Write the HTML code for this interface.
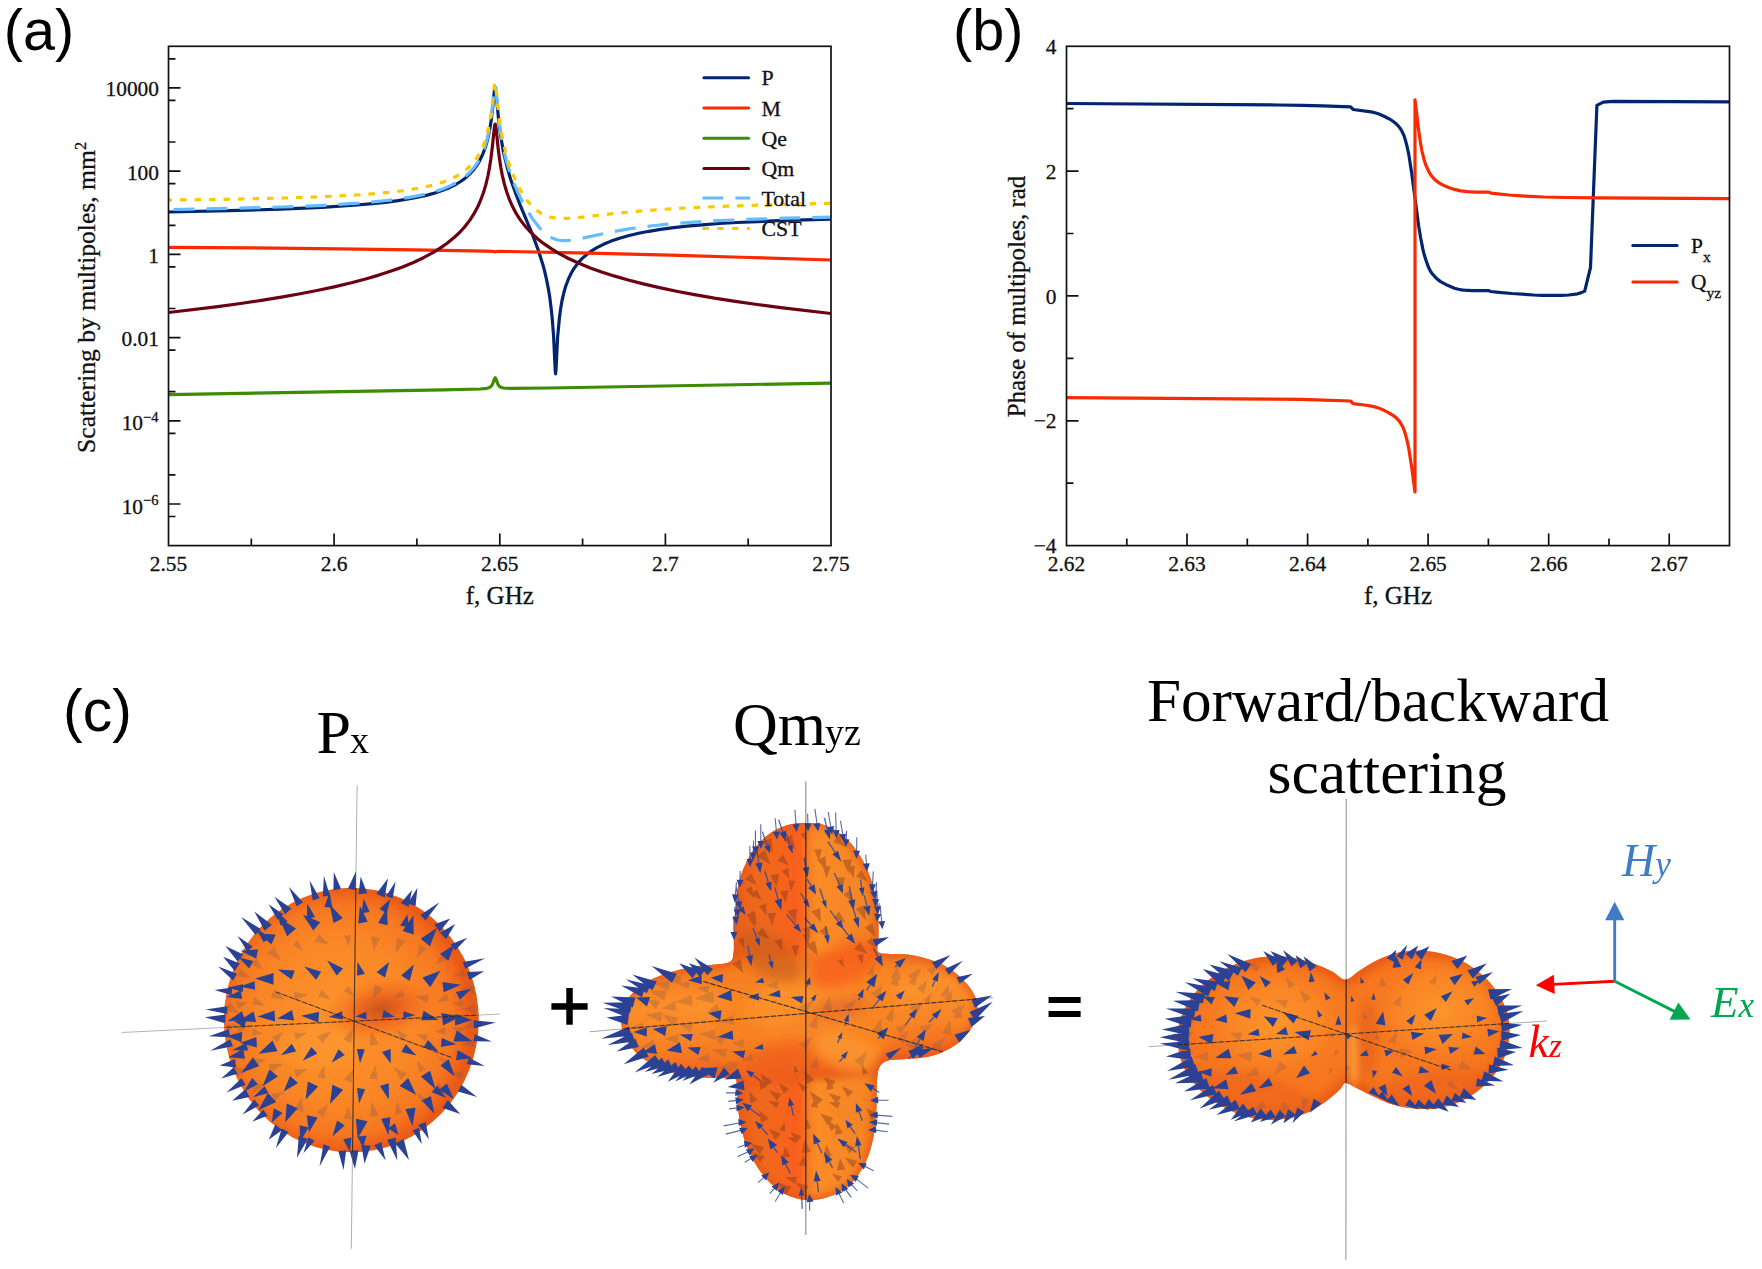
<!DOCTYPE html>
<html lang="en"><head><meta charset="utf-8"><title>Figure</title>
<style>html,body{margin:0;padding:0;background:#fff}svg{display:block}</style></head>
<body>
<svg width="1762" height="1269" viewBox="0 0 1762 1269">
<rect width="1762" height="1269" fill="#fff"/>
<defs><clipPath id="ca"><rect x="168.5" y="46.3" width="662.5" height="499.3"/></clipPath><clipPath id="cb"><rect x="1066.5" y="46.3" width="663" height="499.3"/></clipPath></defs>
<g clip-path="url(#ca)" fill="none" stroke-width="3.2" stroke-linejoin="round">
<path d="M168.5,212 L230.1,210.7 L280.3,209.2 L322,207.3 L357.1,205 L372.3,203.7 L385.5,202.3 L397.9,200.7 L408.3,199 L417.8,197.2 L427.2,195.1 L435.8,192.7 L443.4,190.1 L450,187.4 L455.7,184.5 L461.4,181 L466.1,177.4 L469.9,173.9 L473.7,169.7 L477.5,164.4 L480.3,159.4 L482.9,153.8 L485.2,147.8 L487.2,141 L488.9,133.6 L490.2,126.8 L491.3,119.4 L492.5,109.5 L494.3,91.3 L494.7,88.7 L495.1,87.7 L495.5,88.8 L495.9,91.7 L498.5,118.6 L500.7,135.9 L503.4,151.8 L507,166.7 L510.6,179.2 L515.4,192.7 L520.1,204.8 L532.4,234.4 L538.1,249.6 L542.9,264.7 L544.8,271.9 L546.7,280.4 L548.4,289 L549.8,297.6 L551,307.1 L552.1,317.1 L553.6,336.2 L555.2,370 L555.6,373.9 L556,369.9 L557.6,337.4 L559.4,318 L560.6,309 L562,300.6 L563.7,293.3 L565.6,286.5 L568.5,278.9 L571.3,273 L574.2,268.2 L577.9,263.1 L581.7,258.9 L586.5,254.7 L591.2,251.1 L596.9,247.7 L603.5,244.3 L611.1,241.1 L619.6,238.2 L628.2,235.8 L638.6,233.3 L649,231.3 L660.4,229.4 L673.7,227.7 L686.9,226.2 L702.1,224.8 L719.2,223.5 L737.2,222.5 L778.9,220.6 L831,219.1" stroke="#03256f"/>
<path d="M168.5,247.4 L253.8,247.9 L339.1,248.8 L414,249.8 L485.8,251.1 L492.8,251.3 L495.2,252 L496.5,251.5 L498,251.4 L509.7,251.5 L589.3,253.2 L669.9,255.2 L750.4,257.5 L831,260" stroke="#f92a02"/>
<path d="M168.5,394.7 L443.4,389.8 L480.3,389 L487,388.3 L489,387.7 L490.4,386.9 L491.5,385.9 L492.4,384.5 L494.5,378.7 L494.9,378 L495.2,377.8 L495.9,378.8 L498,384.4 L498.9,385.8 L500,386.8 L501.5,387.5 L503.6,388 L510.6,388.4 L549.1,388 L831,383.1" stroke="#3c8c04"/>
<path d="M168.5,312.5 L217.8,306.6 L240.5,303.5 L261.4,300.4 L281.3,297.2 L300.2,293.8 L318.2,290.3 L335.3,286.6 L351.4,282.8 L365.6,279 L378.9,275.1 L391.2,271.1 L402.6,266.9 L414,262.2 L423.5,257.7 L432.9,252.6 L440.5,247.9 L447.1,243.2 L453.8,237.8 L459.5,232.5 L465.2,226.3 L469.9,220.1 L473.7,214.2 L477.5,207.3 L480.3,201 L483.4,192.8 L485.8,184.9 L487.9,176 L489.4,168.1 L490.8,159.2 L492.2,148 L494.3,128.2 L494.7,125.2 L495.2,124.2 L495.6,125.2 L496.1,128.2 L498.1,148 L499.5,158.7 L500.8,167.3 L502.3,175.4 L504.4,184.1 L506.8,192.2 L509.7,200.2 L512.5,206.6 L516.3,213.7 L520.1,219.6 L524.9,225.9 L530.6,232.2 L537.2,238.4 L543.8,243.7 L551.2,248.7 L559.2,253.6 L568.5,258.5 L578.9,263.3 L590.3,267.9 L601.6,271.9 L614,275.9 L628.2,280 L643.3,283.9 L659.5,287.6 L676.5,291.2 L694.5,294.6 L714.4,298.1 L735.3,301.3 L757.1,304.5 L780.8,307.6 L831,313.5" stroke="#6c0210"/>
<path d="M168.5,209.6 L231.1,208.4 L282.2,207 L323.9,205.3 L358.1,203.2 L373.2,201.9 L386.5,200.5 L398.8,199 L409.2,197.4 L419.7,195.4 L428.2,193.4 L435.8,191.3 L443.4,188.7 L450,185.9 L455.7,183 L461.4,179.5 L466.1,175.8 L469.9,172.3 L473.7,168 L477.5,162.6 L480.3,157.6 L482.9,152.1 L485.1,146 L487.1,139.2 L488.9,131.7 L490.2,124.6 L491.3,117.1 L494.3,89 L494.7,86.4 L495.1,85.5 L495.5,86.5 L496,89.9 L498,111.3 L499.3,123.2 L500.7,132.9 L502.2,142 L504.2,152 L506.6,161.6 L509.7,171.7 L512.5,179.8 L517.3,191.2 L522,201 L527.7,211.2 L533.4,220 L539.1,227.3 L543.8,232.2 L546.3,234.4 L548.9,236.2 L551.4,237.7 L554,238.8 L557.8,240 L561.8,240.6 L566.6,240.7 L571.3,240.2 L579.8,238.7 L609.2,232.4 L629.1,228.9 L641.4,227.2 L654.7,225.5 L668.9,224.1 L683.1,222.9 L711.6,221 L744.8,219.5 L783.6,218.2 L831,217.2" stroke="#66bdfb" stroke-dasharray="21 12" stroke-dashoffset="28"/>
<path d="M168.5,200.1 L232.9,199.2 L285.1,198 L326.8,196.5 L360.9,194.7 L375.1,193.6 L388.4,192.4 L400.7,191 L411.1,189.5 L420.6,187.8 L429.1,186 L436.7,184 L444.3,181.6 L450.9,178.9 L456.6,176.1 L461.4,173.2 L466.1,169.7 L469.9,166.3 L473.7,162.1 L477.5,156.9 L480.3,152 L482.9,146.5 L485.1,140.7 L487,134.3 L488.7,127.1 L491.1,113.5 L492.4,103.8 L494.3,86.3 L494.7,83.5 L495.1,82.6 L495.5,83.6 L496,86.7 L498.1,108 L499.5,119.3 L502.1,136.3 L504,145.6 L506.2,154.5 L508.8,163 L511.6,171.1 L515.4,180.2 L519.2,187.9 L523,194.5 L527.7,201.3 L532.4,206.7 L537.2,210.9 L541.9,213.9 L546.5,216 L550.9,217.3 L555.8,218.1 L561.2,218.4 L567.5,218.3 L579.8,217.4 L614,213.6 L635.8,211.5 L657.6,209.7 L681.3,208.2 L710.6,206.8 L744.8,205.5 L784.6,204.4 L831,203.4" stroke="#fcc800" stroke-dasharray="6.5 8" stroke-dashoffset="3"/>
</g>
<path d="M334.1,545.6 v-12 M499.8,545.6 v-12 M665.4,545.6 v-12 M251.3,545.6 v-7 M416.9,545.6 v-7 M582.6,545.6 v-7 M748.2,545.6 v-7 M168.5,87.9 h12 M168.5,171.1 h12 M168.5,254.3 h12 M168.5,337.6 h12 M168.5,420.8 h12 M168.5,504 h12 M168.5,516.5 h7 M168.5,474.9 h7 M168.5,433.3 h7 M168.5,391.7 h7 M168.5,350.1 h7 M168.5,308.5 h7 M168.5,266.9 h7 M168.5,225.3 h7 M168.5,183.7 h7 M168.5,142 h7 M168.5,100.4 h7 M168.5,58.8 h7" stroke="#111" stroke-width="1.7" fill="none"/>
<rect x="168.5" y="46.3" width="662.5" height="499.3" fill="none" stroke="#111" stroke-width="1.7"/>
<g font-family='"Liberation Serif", serif' font-size="21.4" fill="#111" stroke="#111" stroke-width="0.3">
<text x="168.5" y="571.2" text-anchor="middle">2.55</text>
<text x="334.1" y="571.2" text-anchor="middle">2.6</text>
<text x="499.8" y="571.2" text-anchor="middle">2.65</text>
<text x="665.4" y="571.2" text-anchor="middle">2.7</text>
<text x="831" y="571.2" text-anchor="middle">2.75</text>
<text x="159" y="96.3" text-anchor="end">10000</text>
<text x="159" y="179.5" text-anchor="end">100</text>
<text x="159" y="262.7" text-anchor="end">1</text>
<text x="159" y="346" text-anchor="end">0.01</text>
<text x="158.5" y="430.3" text-anchor="end">10<tspan font-size="14.5" dy="-8.5">−4</tspan></text>
<text x="158.5" y="513.5" text-anchor="end">10<tspan font-size="14.5" dy="-8.5">−6</tspan></text>
</g>
<text x="499.8" y="603.7" text-anchor="middle" font-family='"Liberation Serif", serif' font-size="25" fill="#111" stroke="#111" stroke-width="0.3">f, GHz</text>
<text transform="translate(95.3,297.4) rotate(-90)" text-anchor="middle" font-family='"Liberation Serif", serif' font-size="25.6" fill="#111" stroke="#111" stroke-width="0.3">Scattering by multipoles, mm<tspan font-size="16.5" dy="-9">2</tspan></text>
<path d="M703.9,77.8 H748.6" stroke="#03256f" stroke-width="3" stroke-linecap="round" fill="none"/>
<text x="761.5" y="85.4" font-family='"Liberation Serif", serif' font-size="21.8" fill="#111" stroke="#111" stroke-width="0.3">P</text>
<path d="M703.9,107.9 H748.6" stroke="#f92a02" stroke-width="3" stroke-linecap="round" fill="none"/>
<text x="761.5" y="115.5" font-family='"Liberation Serif", serif' font-size="21.8" fill="#111" stroke="#111" stroke-width="0.3">M</text>
<path d="M703.9,138.2 H748.6" stroke="#3c8c04" stroke-width="3" stroke-linecap="round" fill="none"/>
<text x="761.5" y="145.8" font-family='"Liberation Serif", serif' font-size="21.8" fill="#111" stroke="#111" stroke-width="0.3">Qe</text>
<path d="M703.9,168.5 H748.6" stroke="#6c0210" stroke-width="3" stroke-linecap="round" fill="none"/>
<text x="761.5" y="176.1" font-family='"Liberation Serif", serif' font-size="21.8" fill="#111" stroke="#111" stroke-width="0.3">Qm</text>
<path d="M702.4,198.1 H750.1" stroke="#66bdfb" stroke-width="3" stroke-dasharray="21 12" fill="none"/>
<text x="761.5" y="205.7" font-family='"Liberation Serif", serif' font-size="21.8" fill="#111" stroke="#111" stroke-width="0.3">Total</text>
<path d="M702.4,228.6 H750.1" stroke="#fcc800" stroke-width="3" stroke-dasharray="6.5 8.3" fill="none"/>
<text x="761.5" y="236.2" font-family='"Liberation Serif", serif' font-size="21.8" fill="#111" stroke="#111" stroke-width="0.3">CST</text>
<g clip-path="url(#cb)" fill="none" stroke-width="3.2" stroke-linejoin="round">
<path d="M1066.5,103.5 L1277.8,105 L1302.8,105.3 L1322.7,105.9 L1350.6,106.9 L1353.2,109.5 L1371.1,111.9 L1375,112.8 L1379,114.1 L1384,116.2 L1388.9,118.7 L1391.9,120.5 L1394.9,122.7 L1397.9,125.5 L1399.9,127.9 L1401.8,131 L1403.8,135.1 L1404.8,138 L1406.8,145.4 L1408.8,154.6 L1411.8,174 L1418.7,226.3 L1420.7,238.1 L1422.7,248.4 L1423.7,252.7 L1425.7,259.5 L1428.6,267.6 L1430.6,271.4 L1432.6,274.2 L1435.6,277.5 L1437.6,279.4 L1440.6,281.6 L1447.5,285.3 L1454.5,288.2 L1458.4,289.3 L1461.4,289.9 L1464.4,290.2 L1472.3,290.6 L1488.2,290.5 L1490.9,291.5 L1498.9,292.3 L1511.9,293.5 L1533.8,295 L1541.8,295.3 L1561.7,295.3 L1568.7,295 L1577.7,293.8 L1580.7,292.9 L1584.7,291.1 L1590.5,267.5 L1596.9,105.4 L1603.2,102.1 L1613.1,101.4 L1729.5,101.8" stroke="#03256f"/>
<path d="M1066.5,397.6 L1272.8,399.1 L1300.8,399.4 L1315.7,399.8 L1350.6,401 L1353.2,403.6 L1368.1,405.5 L1375,406.9 L1380,408.6 L1385,410.8 L1388.9,412.8 L1392.9,415.3 L1395.9,417.6 L1398.9,420.7 L1400.8,423.5 L1402.8,427 L1403.8,429.3 L1405.8,435.6 L1407.8,443.7 L1408.8,448.7 L1411.8,468.1 L1415,492 L1415,99.9 L1418.9,132 L1420.9,145.4 L1421.9,150.8 L1423.9,158.9 L1425.8,164.9 L1427.8,169.6 L1429.8,173.4 L1431.8,176.2 L1434.7,179.4 L1437.7,181.9 L1440.7,183.8 L1444.6,185.8 L1448.6,187.4 L1454.5,189.4 L1460.5,190.9 L1467.4,191.7 L1475.3,192.1 L1488.2,192 L1490.9,193.1 L1508.9,195 L1524.8,196.1 L1543.8,197 L1565.8,197.5 L1598.7,197.9 L1729.5,198.7" stroke="#f92a02"/>
</g>
<path d="M1187,545.6 v-12 M1307.6,545.6 v-12 M1428.1,545.6 v-12 M1548.7,545.6 v-12 M1669.2,545.6 v-12 M1126.8,545.6 v-7 M1247.3,545.6 v-7 M1367.9,545.6 v-7 M1488.4,545.6 v-7 M1609,545.6 v-7 M1066.5,171.1 h12 M1066.5,295.9 h12 M1066.5,420.8 h12 M1066.5,108.7 h7 M1066.5,233.5 h7 M1066.5,358.4 h7 M1066.5,483.2 h7" stroke="#111" stroke-width="1.7" fill="none"/>
<rect x="1066.5" y="46.3" width="663" height="499.3" fill="none" stroke="#111" stroke-width="1.7"/>
<g font-family='"Liberation Serif", serif' font-size="21.4" fill="#111" stroke="#111" stroke-width="0.3">
<text x="1066.5" y="571.2" text-anchor="middle">2.62</text>
<text x="1187" y="571.2" text-anchor="middle">2.63</text>
<text x="1307.6" y="571.2" text-anchor="middle">2.64</text>
<text x="1428.1" y="571.2" text-anchor="middle">2.65</text>
<text x="1548.7" y="571.2" text-anchor="middle">2.66</text>
<text x="1669.2" y="571.2" text-anchor="middle">2.67</text>
<text x="1056.5" y="53.9" text-anchor="end">4</text>
<text x="1056.5" y="178.7" text-anchor="end">2</text>
<text x="1056.5" y="303.6" text-anchor="end">0</text>
<text x="1056.5" y="428.4" text-anchor="end">−2</text>
<text x="1056.5" y="553.2" text-anchor="end">−4</text>
</g>
<text x="1398" y="603.7" text-anchor="middle" font-family='"Liberation Serif", serif' font-size="25" fill="#111" stroke="#111" stroke-width="0.3">f, GHz</text>
<text transform="translate(1024.6,296.5) rotate(-90)" text-anchor="middle" font-family='"Liberation Serif", serif' font-size="25" fill="#111" stroke="#111" stroke-width="0.3">Phase of multipoles, rad</text>
<path d="M1632.8,245.6 H1677.1" stroke="#03256f" stroke-width="3" stroke-linecap="round" fill="none"/>
<text x="1691" y="253" font-family='"Liberation Serif", serif' font-size="21.4" fill="#111" stroke="#111" stroke-width="0.3">P<tspan font-size="15.5" dy="8.5">x</tspan></text>
<path d="M1632.8,281.9 H1677.1" stroke="#f92a02" stroke-width="3" stroke-linecap="round" fill="none"/>
<text x="1691" y="289.3" font-family='"Liberation Serif", serif' font-size="21.4" fill="#111" stroke="#111" stroke-width="0.3">Q<tspan font-size="15.5" dy="8.5">yz</tspan></text>
<g font-family='"Liberation Sans", sans-serif' font-size="57.6" fill="#000">
<text x="3.8" y="50.1">(a)</text>
<text x="953" y="50.1">(b)</text>
<text x="63" y="731.4" font-size="59">(c)</text>
</g>
<defs><radialGradient id="g1" cx="0.47" cy="0.5" r="0.5" fx="0.42" fy="0.5"><stop offset="0" stop-color="#fc932b"/><stop offset="0.62" stop-color="#fa8726"/><stop offset="0.86" stop-color="#f67821"/><stop offset="0.96" stop-color="#ef641a"/><stop offset="1" stop-color="#e85a18"/></radialGradient><radialGradient id="g1d" cx="0.5" cy="0.5" r="0.5"><stop offset="0" stop-color="#c4521a" stop-opacity="0.95"/><stop offset="0.4" stop-color="#ea5c1b" stop-opacity="0.75"/><stop offset="1" stop-color="#f9701f" stop-opacity="0"/></radialGradient><clipPath id="c1"><ellipse cx="351.3" cy="1020.0" rx="127.5" ry="132.2"/></clipPath><filter id="b6" x="-20%" y="-20%" width="140%" height="140%"><feGaussianBlur stdDeviation="5"/></filter><filter id="b3" x="-20%" y="-20%" width="140%" height="140%"><feGaussianBlur stdDeviation="3"/></filter></defs>
<ellipse cx="351.3" cy="1020.0" rx="127.5" ry="132.2" fill="url(#g1)"/>
<g clip-path="url(#c1)">
<ellipse cx="381" cy="1009" rx="60" ry="32" transform="rotate(-12 381 1009)" fill="url(#g1d)"/>
<ellipse cx="318" cy="1048" rx="40" ry="22" fill="#fd9a30" opacity="0.5" filter="url(#b6)"/>
</g>
<path d="M250.7,978.2 L236.9,976.2 L240.5,968.7Z M263,970 L250.9,964.1 L256.4,958.3Z M281.1,960.9 L267.5,953.2 L274.3,946.8Z M302.8,950.8 L292.6,945.2 L297.6,940.4Z M329.3,944.4 L314.7,941.8 L318.7,934.1Z M348.9,946.4 L343.9,935.7 L350.9,934.7Z M374,951.3 L370.9,936.5 L379.8,937.4Z M395.5,952.8 L397.1,937.4 L405.6,941Z M416.5,957.6 L420.1,944.5 L426.9,948.8Z M435.1,964.2 L442.6,953.5 L447.3,959.6Z M452.3,976.4 L464,968.6 L466.4,976.6Z M459.8,988 L474.7,985.1 L473.7,994Z M240.3,1014 L225.2,1010.1 L230,1002.2Z M248.3,1002.3 L238,1009.1 L235.9,1002.1Z M265.2,1005.5 L251.7,1004.5 L254.6,997Z M285.8,999.7 L270.6,997.7 L274.4,989.5Z M308.2,995 L294.4,1000.3 L293.8,991.6Z M330.9,999.5 L318,996.5 L322,989.8Z M354.6,996.6 L343.7,991.3 L348.6,986.1Z M372,999.8 L374.8,984.5 L383,988.7Z M393.1,998.4 L401.2,990.1 L404.5,996.1Z M415.4,996.2 L428.7,995 L427.1,1002.7Z M436.8,1002.6 L445.9,993.6 L449.4,1000.3Z M451.7,1002.9 L463.5,1000.5 L462.8,1007.6Z M460.9,1009.1 L475.4,1004.2 L475.6,1013.2Z M237.4,1024.6 L227.3,1031.7 L225.1,1024.7Z M250,1025.1 L239.6,1033.5 L236.7,1026.1Z M263.5,1033.4 L251.9,1035.5 L252.8,1028.6Z M283.2,1031.6 L277.1,1042.6 L271.9,1037.2Z M307.3,1033 L296.2,1040.3 L294,1032.8Z M331.5,1031 L322.4,1043.4 L317,1036.1Z M353.1,1028.7 L351.1,1043 L343.4,1039.3Z M371.3,1031 L378.4,1044.1 L369.8,1045.8Z M395.5,1029.3 L407.4,1035.6 L401.8,1041.2Z M415.9,1034.2 L427.9,1034.6 L425.6,1041.4Z M434.3,1031.7 L445,1027 L445.8,1033.9Z M450.6,1027 L463.3,1027.7 L460.7,1034.7Z M462.2,1029.2 L471.6,1020.9 L474.7,1027.6Z M251.3,1046.5 L240.7,1055.9 L237.2,1048.2Z M267,1059.8 L253.8,1066.1 L252.6,1057.6Z M283.3,1063.7 L271.1,1072.5 L268.3,1064.1Z M307.9,1069 L296.4,1077.6 L293.5,1069.6Z M324.2,1065.8 L325.1,1078.8 L317.6,1077Z M354.1,1069.3 L351.1,1083.1 L343.8,1079Z M375.6,1065.1 L377.9,1079.5 L369.3,1078.3Z M393.5,1067.3 L406.8,1073.5 L400.9,1079.9Z M417.2,1060.3 L425.6,1069.4 L418.9,1072.6Z M437.7,1056.4 L450.4,1060.9 L445.6,1067.3Z M452.8,1051.1 L464.6,1051.2 L462.4,1057.9Z M461.3,1044.6 L474.1,1039.3 L474.9,1047.5Z M250.5,1068.2 L237.4,1076.6 L235,1067.7Z M267,1083.7 L254.3,1092.5 L251.6,1083.7Z M284.5,1092.1 L274.6,1101.1 L271.2,1093.9Z M301.4,1096.5 L303.4,1111.7 L294.4,1110.2Z M328.1,1103.7 L323.4,1117.6 L316.4,1112.5Z M348.5,1105.9 L351.9,1119.3 L343.7,1118.9Z M371.7,1101.9 L378.9,1115.4 L370,1117.1Z M396.7,1101.2 L402.9,1113 L395.1,1114.5Z M416.1,1092.5 L426.5,1098.2 L421.5,1103.1Z M436.4,1081.5 L447.5,1091.1 L440.1,1095.7Z M450.8,1072.3 L463.7,1072.2 L461.5,1079.6Z" fill="#8a5a4a" opacity="0.33"/>
<path d="M240.4,950.8 L258,949.3 L256.3,958.6Z M258,933.4 L275.6,934.4 L271.5,944.6Z M279.3,918.1 L296,928.6 L287.1,936.2Z M302.7,914.5 L320.3,922.3 L313.3,930.6Z M329.7,904.5 L342.8,918.3 L333.5,923.1Z M359.9,905.8 L367.8,921.8 L358.3,923.6Z M386.9,907.8 L387.7,925.2 L378.1,922.9Z M413.4,915.3 L413.7,934.4 L402.6,931Z M436.8,928 L430,946.2 L420.7,938.8Z M454.6,944.4 L448.4,960.8 L439.9,954Z M226.3,997 L240.8,990.4 L242.1,999.1Z M239.9,986.4 L254.6,981.2 L255.1,989.7Z M255,978.5 L273.6,973 L273.4,984.7Z M277.6,969.5 L294.7,970.6 L291.6,979.4Z M304.4,966.5 L321.2,971.7 L316.1,979.7Z M327.2,960.6 L343.1,968.4 L336.6,975.6Z M357.5,962.1 L364.9,973.7 L357,975.8Z M389.2,961.9 L385,977.6 L376.6,972.3Z M413.9,964.4 L409.7,980.9 L401.1,975.6Z M440.4,970.8 L430.2,987.2 L422.4,977.6Z M460.9,984.8 L443.7,992.2 L442.4,981.9Z M471.3,988.7 L460,999.8 L455.9,991.9Z M227.6,1021.3 L241.9,1011.2 L245.1,1020.3Z M238.5,1021 L253.5,1011.5 L256.2,1022.1Z M257.6,1016.5 L274.6,1010.4 L275,1021.6Z M277.3,1018.6 L292,1010.1 L294.1,1020.4Z M301.2,1015.7 L319.2,1011.8 L318.3,1022.5Z M328.6,1016.9 L342,1011.2 L342.9,1019.6Z M355.4,1016.5 L366.1,1011.8 L366.7,1019.2Z M394.8,1016.8 L381.9,1017.9 L383.7,1010Z M415.3,1015.2 L403.2,1018.2 L403.5,1011.2Z M438.9,1020 L421.1,1020.2 L423.7,1010.8Z M460.6,1016.6 L443.1,1025.4 L441.4,1012.9Z M472.1,1020 L455,1025.4 L455.3,1013.9Z M226.5,1035.9 L242.3,1032.1 L241.5,1042.2Z M240.1,1043 L256.4,1037.2 L256.9,1047.4Z M258.4,1053.7 L272.5,1040.6 L277.5,1051.3Z M280.9,1055.2 L291.8,1043.8 L296.2,1051.3Z M302.8,1060.8 L311.3,1047 L317.3,1053.4Z M331.5,1062.8 L338.6,1049.2 L344.8,1055.1Z M360.1,1063.2 L356.7,1048.9 L364.9,1049.3Z M390.7,1063.4 L382,1052 L390.7,1049.1Z M416.5,1055.5 L401.4,1052.1 L405.8,1044.2Z M438.6,1051.5 L423.5,1047.6 L428,1040.1Z M456.3,1044.3 L440.8,1047 L441.8,1038.1Z M472.3,1041.3 L453.4,1041.5 L456.8,1030.6Z M228.2,1057.3 L243,1049.1 L245,1058.8Z M241.2,1072.9 L252.8,1057.4 L259.2,1066Z M262.7,1085.9 L269.4,1069.5 L277.9,1076.6Z M283.7,1091.5 L290,1076 L298.1,1082.9Z M305.6,1099.4 L307.9,1081.5 L318.2,1086.5Z M330,1104.1 L332.4,1084.7 L343.2,1089.7Z M359.1,1103.6 L357,1088.1 L365.2,1089.2Z M388.9,1099.4 L379.9,1085.9 L388.8,1083.2Z M416.2,1095 L399.6,1086 L408.2,1077.9Z M435.6,1089.3 L420.9,1076.6 L430.1,1070.7Z M454.8,1076.5 L440.4,1065.6 L448.7,1059.5Z M471.9,1058.1 L455.9,1060.3 L457.7,1050.3Z M258.2,1110.2 L267.9,1092.9 L276.2,1102Z M285.2,1122.3 L286.7,1103.6 L297.7,1108.3Z M308.9,1132.6 L306.8,1115.3 L317.7,1117.5Z M332.3,1136.5 L337.2,1120.6 L344.8,1125.5Z M357.7,1138.3 L355.8,1118.7 L367.6,1121.2Z M388.5,1135 L381.1,1118.8 L390.5,1117.3Z M412.4,1125.9 L405.3,1108.9 L415.6,1107.8Z M434.5,1114.1 L421.9,1100.6 L430.9,1096Z M453.9,1099.2 L439.5,1089.7 L446.8,1083.5Z" fill="#2b4193"/>
<path d="M495.8,1022.6 L474,1028.4 L473.4,1020.2Z M491.8,1041.6 L473.3,1041.2 L474.9,1034.3Z M484.7,1066 L466.8,1064.3 L468.9,1057.5Z M477.1,1096.9 L457.9,1091.5 L461.3,1084.8Z M460.3,1113.9 L442.6,1108 L447.7,1100.1Z M428.8,1139.2 L418.3,1125.1 L425.7,1121.9Z M421.8,1144.3 L412.4,1130.4 L419.1,1127.8Z M409,1160.1 L395.2,1143.4 L403.7,1139.1Z M397.3,1160.5 L387.2,1139.9 L395.7,1137.5Z M385.6,1160.5 L374.2,1145.2 L381.3,1141.9Z M364.5,1163.8 L361.3,1145 L370.7,1145.8Z M354.9,1168.9 L349.5,1150.7 L358.5,1150.2Z M343.5,1170 L338.3,1151 L346.2,1150.5Z M319.5,1166.5 L323.5,1144.3 L330.2,1146.7Z M303.4,1153.2 L308.4,1137.3 L314.6,1140.8Z M297,1157.8 L298.8,1136.1 L307.7,1138.9Z M275.8,1148.3 L281.7,1128.5 L288.5,1132Z M268.7,1139.8 L275.2,1124.5 L282.2,1130Z M252.2,1121.8 L263.3,1109.5 L267.6,1115.7Z M242.5,1114.6 L254.3,1099.6 L259.2,1105.4Z M232.1,1100.7 L245.6,1089 L249.6,1097.1Z M226.5,1092.4 L241.5,1078.2 L245.7,1084.8Z M221.2,1078.5 L233.8,1067.2 L237.5,1073.7Z M219.5,1065.4 L235,1059.1 L236.2,1067.4Z M210.2,1050.8 L230.3,1039.2 L233,1046.3Z M208.7,1036.2 L228.9,1029.3 L230.1,1037.3Z M204.7,1017.2 L225.7,1014.4 L225,1023.3Z M205.4,1009.6 L227.4,1006.2 L227.2,1014Z M214.6,990.1 L232.2,987.6 L231.6,995.2Z M218.1,966.4 L237.1,973.7 L233,980.4Z M223.1,956.8 L239.9,963.6 L234.6,970.9Z M225.4,945.9 L243.3,954.5 L237.6,961.6Z M237.5,936 L252.7,946.5 L247.4,951.5Z M241.1,917.1 L260.7,928.9 L255.5,934.9Z M254.3,911.4 L271.8,924.7 L264.7,930.7Z M268.6,904.2 L283.4,914.4 L277.6,919.8Z M274.4,896.7 L291.4,908.4 L285.1,914.3Z M288.8,886.7 L303,902.2 L296.7,906.2Z M309.6,880.5 L319.6,898 L312.8,900.4Z M323.9,875.8 L329.9,895.7 L322.8,896.5Z M333.8,871.9 L341,888.8 L333.4,890.3Z M356,871.2 L355.8,890.2 L348,888.4Z M360.7,876.5 L367.2,893.2 L358.5,894.3Z M388,878.2 L384.7,897.4 L376.4,893.8Z M395.6,881.4 L392.6,898.6 L386.1,896Z M412,889.9 L408.6,906.7 L400.9,903Z M417.4,887.8 L415.6,906.1 L407.7,903.5Z M439.5,902.2 L425.4,920.5 L420.3,915Z M450.3,918.4 L439.7,931.8 L434.3,924.2Z M455.3,924 L446.1,939.1 L439.9,932.7Z M467.3,937.7 L455.1,950.6 L450.8,944.3Z M485.1,958.3 L465.1,968.7 L462.8,962Z M484.2,971.2 L469.4,980.1 L466.9,972Z M446.2,1097.9 L431.8,1092.2 L437.1,1085.4Z M398.5,1135 L388.2,1128.5 L395,1123.2Z M362.9,1147.5 L357.3,1136.5 L366.6,1135.7Z M349.8,1151.7 L343.2,1139.2 L351.5,1137.6Z M300.2,1141.8 L299.6,1125.2 L308.6,1127.4Z M271.8,1122.4 L273.8,1108.2 L282.5,1112.9Z M252.9,1097.3 L264.6,1086.2 L268.4,1092.9Z M243.8,1091.8 L252.2,1078.1 L257.9,1084.1Z M232,1050.2 L246.2,1042.7 L248.1,1050.5Z M234.3,1021.3 L246.1,1020 L244.3,1027.7Z M227.6,987.4 L243.2,984.2 L242.8,992.1Z M238.9,957.6 L253.3,961.1 L249.1,968.4Z M256.1,928.5 L269.5,937.1 L263.8,942.4Z M276.1,911 L287.7,921.3 L280.8,925.8Z M307.3,903.6 L315.1,916.9 L306.7,919Z M329.6,892.3 L332.4,907.7 L324.3,907Z M363.6,898.4 L369.7,912 L361.5,913.2Z M390.3,898.9 L386.9,913.3 L379.5,908.9Z M407.4,914.6 L409,927.5 L400.1,925.4Z" fill="#2b4193"/>
<path d="M357.1,785.4 L351.3,1248.8" stroke="#555" stroke-width="1" opacity="0.48" fill="none"/>
<path d="M121.6,1032.5 L500,1014" stroke="#555" stroke-width="1" opacity="0.44000000000000006" fill="none"/>
<path d="M276,992 L451.7,1057.6" stroke="#555" stroke-width="1" opacity="0.52" fill="none"/>
<g clip-path="url(#c1)">
<path d="M357.1,785.4 L351.3,1248.8" stroke="#2a1408" stroke-width="1" opacity="0.7" fill="none"/>
<path d="M121.6,1032.5 L500,1014" stroke="#2a1408" stroke-width="1" opacity="0.7" fill="none" stroke-dasharray="5 2"/>
<path d="M276,992 L451.7,1057.6" stroke="#2a1408" stroke-width="1" opacity="0.7" fill="none" stroke-dasharray="5 2"/>
</g>
<defs><clipPath id="c2"><path d="M805.9,823.1 C812.5,823.1 819.2,823.1 825.8,825.6 C832.4,828.1 839.5,832.4 845.6,838 C851.7,843.6 857.7,851.5 862.2,859.5 C866.8,867.5 870.3,876.6 872.9,886 C875.5,895.4 877,907 877.9,915.8 C878.8,924.6 878.4,932.9 878.4,938.9 C878.4,944.9 876.1,949 877.9,951.5 C879.7,954 884.2,953.5 889.4,954 C894.6,954.5 902,953.7 909.2,954.8 C916.4,955.9 925.2,958 932.4,960.6 C939.6,963.2 946.1,966.2 952.2,970.5 C958.3,974.8 964.6,980.9 968.8,986.3 C972.9,991.7 976,997.3 977.1,1002.8 C978.2,1008.3 977.3,1013.9 975.4,1019.4 C973.5,1024.9 969.9,1031 965.5,1035.9 C961.1,1040.9 955,1045.6 948.9,1049.1 C942.8,1052.5 936.3,1054.9 929.1,1056.6 C921.9,1058.3 912.8,1058.4 905.9,1059.1 C899,1059.8 892.1,1059.3 887.7,1060.7 C883.3,1062.1 881.2,1063.6 879.4,1067.3 C877.6,1071 877.4,1075.4 876.9,1083 C876.4,1090.6 876.9,1103.5 876.2,1112.9 C875.5,1122.3 874.7,1131.1 872.9,1139.4 C871.1,1147.7 869,1155.3 865.5,1162.5 C862,1169.7 857.2,1177.2 852.2,1182.4 C847.2,1187.7 841.8,1191.1 835.7,1194 C829.6,1196.9 821.9,1199 815.8,1199.8 C809.7,1200.6 805.4,1200.4 799.3,1198.9 C793.2,1197.4 785.8,1195.1 779.4,1190.7 C773,1186.3 766.4,1179.4 761.2,1172.5 C756,1165.6 751.5,1157.3 748,1149.3 C744.5,1141.3 742.3,1132.8 740.5,1124.5 C738.7,1116.2 738,1107.2 737.2,1099.6 C736.4,1092 738.1,1082.6 735.6,1079 C733.1,1075.4 729.6,1078.5 722.5,1078.1 C715.4,1077.7 702.6,1077.9 692.7,1076.4 C682.8,1074.9 671.7,1072.4 662.9,1069 C654.1,1065.6 645.8,1060.8 639.7,1055.8 C633.6,1050.8 629.6,1044.7 626.5,1039.2 C623.4,1033.7 621.5,1028.5 621.2,1022.7 C620.9,1016.9 622.3,1010 624.8,1004.5 C627.3,999 631.4,994 636.4,989.6 C641.4,985.2 647.4,981.3 654.6,978 C661.8,974.7 670.9,971.8 679.4,969.7 C687.9,967.6 697.6,966.8 705.9,965.6 C714.2,964.4 724.5,964.4 729.1,962.3 C733.7,960.2 732.7,956.9 733.5,953 C734.3,949.1 733.7,945.1 733.9,938.9 C734.1,932.7 734,925.2 734.8,915.8 C735.6,906.4 736.4,892.6 738.9,882.7 C741.4,872.8 745,863.9 749.6,856.2 C754.2,848.5 760.1,841.4 766.2,836.3 C772.3,831.2 779.4,827.8 786,825.6 C792.6,823.4 799.3,823.1 805.9,823.1Z"/></clipPath><linearGradient id="g2v" x1="0" x2="1" y1="0" y2="0"><stop offset="0" stop-color="#e65f1b"/><stop offset="0.25" stop-color="#f0691d"/><stop offset="0.47" stop-color="#fa5f1a"/><stop offset="0.5" stop-color="#f7741f"/><stop offset="0.56" stop-color="#fa8c29"/><stop offset="0.85" stop-color="#f58424"/><stop offset="1" stop-color="#ea701f"/></linearGradient><linearGradient id="g2h" x1="0" x2="0" y1="0" y2="1"><stop offset="0" stop-color="#f3741f"/><stop offset="0.3" stop-color="#fb8e2a"/><stop offset="0.6" stop-color="#f98526"/><stop offset="0.85" stop-color="#f1681d"/><stop offset="1" stop-color="#e85a19"/></linearGradient><radialGradient id="g2d" cx="0.5" cy="0.5" r="0.5"><stop offset="0" stop-color="#d44e18" stop-opacity="0.9"/><stop offset="1" stop-color="#ec5f1c" stop-opacity="0"/></radialGradient><radialGradient id="g2l" cx="0.5" cy="0.5" r="0.5"><stop offset="0" stop-color="#fd9a30" stop-opacity="0.9"/><stop offset="1" stop-color="#fb8a27" stop-opacity="0"/></radialGradient></defs>
<path d="M805.9,823.1 C812.5,823.1 819.2,823.1 825.8,825.6 C832.4,828.1 839.5,832.4 845.6,838 C851.7,843.6 857.7,851.5 862.2,859.5 C866.8,867.5 870.3,876.6 872.9,886 C875.5,895.4 877,907 877.9,915.8 C878.8,924.6 878.4,932.9 878.4,938.9 C878.4,944.9 876.1,949 877.9,951.5 C879.7,954 884.2,953.5 889.4,954 C894.6,954.5 902,953.7 909.2,954.8 C916.4,955.9 925.2,958 932.4,960.6 C939.6,963.2 946.1,966.2 952.2,970.5 C958.3,974.8 964.6,980.9 968.8,986.3 C972.9,991.7 976,997.3 977.1,1002.8 C978.2,1008.3 977.3,1013.9 975.4,1019.4 C973.5,1024.9 969.9,1031 965.5,1035.9 C961.1,1040.9 955,1045.6 948.9,1049.1 C942.8,1052.5 936.3,1054.9 929.1,1056.6 C921.9,1058.3 912.8,1058.4 905.9,1059.1 C899,1059.8 892.1,1059.3 887.7,1060.7 C883.3,1062.1 881.2,1063.6 879.4,1067.3 C877.6,1071 877.4,1075.4 876.9,1083 C876.4,1090.6 876.9,1103.5 876.2,1112.9 C875.5,1122.3 874.7,1131.1 872.9,1139.4 C871.1,1147.7 869,1155.3 865.5,1162.5 C862,1169.7 857.2,1177.2 852.2,1182.4 C847.2,1187.7 841.8,1191.1 835.7,1194 C829.6,1196.9 821.9,1199 815.8,1199.8 C809.7,1200.6 805.4,1200.4 799.3,1198.9 C793.2,1197.4 785.8,1195.1 779.4,1190.7 C773,1186.3 766.4,1179.4 761.2,1172.5 C756,1165.6 751.5,1157.3 748,1149.3 C744.5,1141.3 742.3,1132.8 740.5,1124.5 C738.7,1116.2 738,1107.2 737.2,1099.6 C736.4,1092 738.1,1082.6 735.6,1079 C733.1,1075.4 729.6,1078.5 722.5,1078.1 C715.4,1077.7 702.6,1077.9 692.7,1076.4 C682.8,1074.9 671.7,1072.4 662.9,1069 C654.1,1065.6 645.8,1060.8 639.7,1055.8 C633.6,1050.8 629.6,1044.7 626.5,1039.2 C623.4,1033.7 621.5,1028.5 621.2,1022.7 C620.9,1016.9 622.3,1010 624.8,1004.5 C627.3,999 631.4,994 636.4,989.6 C641.4,985.2 647.4,981.3 654.6,978 C661.8,974.7 670.9,971.8 679.4,969.7 C687.9,967.6 697.6,966.8 705.9,965.6 C714.2,964.4 724.5,964.4 729.1,962.3 C733.7,960.2 732.7,956.9 733.5,953 C734.3,949.1 733.7,945.1 733.9,938.9 C734.1,932.7 734,925.2 734.8,915.8 C735.6,906.4 736.4,892.6 738.9,882.7 C741.4,872.8 745,863.9 749.6,856.2 C754.2,848.5 760.1,841.4 766.2,836.3 C772.3,831.2 779.4,827.8 786,825.6 C792.6,823.4 799.3,823.1 805.9,823.1Z" fill="#f57a21"/>
<g clip-path="url(#c2)"><g filter="url(#b3)">
<rect x="722" y="812" width="168" height="150" fill="url(#g2v)"/>
<rect x="722" y="1070" width="168" height="140" fill="url(#g2v)"/>
<rect x="610" y="955" width="380" height="126" transform="rotate(-4.5 806 1012)" fill="url(#g2h)"/>
<ellipse cx="740" cy="1020" rx="26" ry="54" fill="#f7801f" opacity="0.8"/>
<ellipse cx="874" cy="1006" rx="22" ry="50" fill="#f8841f" opacity="0.8"/>
<ellipse cx="770" cy="956" rx="36" ry="20" transform="rotate(40 770 956)" fill="#c25c1e" opacity="0.55" filter="url(#b6)"/>
<ellipse cx="846" cy="964" rx="38" ry="20" transform="rotate(-28 846 964)" fill="#f85e1c" opacity="0.75" filter="url(#b6)"/>
<ellipse cx="766" cy="1064" rx="44" ry="16" transform="rotate(-18 766 1064)" fill="#f2601c" opacity="0.75" filter="url(#b6)"/>
<ellipse cx="840" cy="1008" rx="28" ry="10" transform="rotate(-12 840 1008)" fill="#e0602a" opacity="0.6" filter="url(#b6)"/>
<ellipse cx="846" cy="1052" rx="34" ry="18" transform="rotate(20 846 1052)" fill="#fd9c32" opacity="0.75" filter="url(#b6)"/>
<ellipse cx="778" cy="1004" rx="36" ry="18" transform="rotate(-15 778 1004)" fill="#fc942c" opacity="0.7" filter="url(#b6)"/>
<ellipse cx="706" cy="1008" rx="60" ry="22" transform="rotate(-6 706 1008)" fill="url(#g2l)" opacity="0.6"/>
<ellipse cx="915" cy="990" rx="48" ry="22" transform="rotate(-6 915 990)" fill="url(#g2l)" opacity="0.6"/>
</g>
<path d="M805.9,823.1 C812.5,823.1 819.2,823.1 825.8,825.6 C832.4,828.1 839.5,832.4 845.6,838 C851.7,843.6 857.7,851.5 862.2,859.5 C866.8,867.5 870.3,876.6 872.9,886 C875.5,895.4 877,907 877.9,915.8 C878.8,924.6 878.4,932.9 878.4,938.9 C878.4,944.9 876.1,949 877.9,951.5 C879.7,954 884.2,953.5 889.4,954 C894.6,954.5 902,953.7 909.2,954.8 C916.4,955.9 925.2,958 932.4,960.6 C939.6,963.2 946.1,966.2 952.2,970.5 C958.3,974.8 964.6,980.9 968.8,986.3 C972.9,991.7 976,997.3 977.1,1002.8 C978.2,1008.3 977.3,1013.9 975.4,1019.4 C973.5,1024.9 969.9,1031 965.5,1035.9 C961.1,1040.9 955,1045.6 948.9,1049.1 C942.8,1052.5 936.3,1054.9 929.1,1056.6 C921.9,1058.3 912.8,1058.4 905.9,1059.1 C899,1059.8 892.1,1059.3 887.7,1060.7 C883.3,1062.1 881.2,1063.6 879.4,1067.3 C877.6,1071 877.4,1075.4 876.9,1083 C876.4,1090.6 876.9,1103.5 876.2,1112.9 C875.5,1122.3 874.7,1131.1 872.9,1139.4 C871.1,1147.7 869,1155.3 865.5,1162.5 C862,1169.7 857.2,1177.2 852.2,1182.4 C847.2,1187.7 841.8,1191.1 835.7,1194 C829.6,1196.9 821.9,1199 815.8,1199.8 C809.7,1200.6 805.4,1200.4 799.3,1198.9 C793.2,1197.4 785.8,1195.1 779.4,1190.7 C773,1186.3 766.4,1179.4 761.2,1172.5 C756,1165.6 751.5,1157.3 748,1149.3 C744.5,1141.3 742.3,1132.8 740.5,1124.5 C738.7,1116.2 738,1107.2 737.2,1099.6 C736.4,1092 738.1,1082.6 735.6,1079 C733.1,1075.4 729.6,1078.5 722.5,1078.1 C715.4,1077.7 702.6,1077.9 692.7,1076.4 C682.8,1074.9 671.7,1072.4 662.9,1069 C654.1,1065.6 645.8,1060.8 639.7,1055.8 C633.6,1050.8 629.6,1044.7 626.5,1039.2 C623.4,1033.7 621.5,1028.5 621.2,1022.7 C620.9,1016.9 622.3,1010 624.8,1004.5 C627.3,999 631.4,994 636.4,989.6 C641.4,985.2 647.4,981.3 654.6,978 C661.8,974.7 670.9,971.8 679.4,969.7 C687.9,967.6 697.6,966.8 705.9,965.6 C714.2,964.4 724.5,964.4 729.1,962.3 C733.7,960.2 732.7,956.9 733.5,953 C734.3,949.1 733.7,945.1 733.9,938.9 C734.1,932.7 734,925.2 734.8,915.8 C735.6,906.4 736.4,892.6 738.9,882.7 C741.4,872.8 745,863.9 749.6,856.2 C754.2,848.5 760.1,841.4 766.2,836.3 C772.3,831.2 779.4,827.8 786,825.6 C792.6,823.4 799.3,823.1 805.9,823.1Z" fill="none" stroke="#e5561a" stroke-width="7" filter="url(#b3)" opacity="0.8"/>
</g>
<path d="M807.6,813.8 L808,827.1 M814.9,808.9 L817.5,827.1 M828.2,812 L831.3,830.2 M835.6,812.5 L836.3,833.9 M840.5,820.7 L843.3,837.8 M846.7,830.8 L845.9,842.9 M856.8,837.3 L856.6,854.3 M865.7,854.6 L866.7,867 M873.3,871.4 L872.3,888 M872.4,880.9 L874.4,895.1 M876.5,882.2 L875.6,902.6 M876.8,890.2 L877.6,910 M879.2,903.3 L877.3,917.4 M880.1,905.5 L882,924.9 M888.5,1100.2 L876.6,1100.2 M892.4,1116.4 L876,1115.1 M889.3,1124.1 L875.4,1122.6 M887.8,1131.8 L874.5,1130.1 M873.6,1170.8 L863.8,1165.8 M868.2,1188.1 L855.6,1178.4 M857.4,1190.8 L850.6,1183.9 M851.3,1197.4 L844.9,1188.7 M843.7,1203 L838.5,1192.6 M809.6,1210.5 L809.7,1200.3 M775.2,1201.5 L781.2,1191.8 M769.8,1193.7 L775.2,1187.4 M757.9,1182.6 L764.7,1176.8 M744.7,1162.2 L752.2,1158.1 M737.8,1156.4 L748.9,1151.4 M737.7,1147.4 L746.1,1144.4 M725.7,1134.1 L741.8,1130.1 M723.6,1125.9 L740.2,1122.7 M729.1,1108.9 L738.1,1107.9 M728.3,1101.4 L737.3,1100.4 M726,1092.9 L737,1092.9 M733.8,916.1 L734,935.5 M734.7,907.1 L736.1,920.4 M735.4,896.1 L737.5,912.9 M735.9,885.2 L739.4,905.3 M736.5,882.4 L735.1,898 M740.2,871.1 L739.9,883.4 M749.8,845.8 L750.1,862.6 M753.6,840.8 L753.2,856.2 M755.4,830.5 L755.6,850.2 M760.8,824.3 L760.8,844.6 M775.2,818.3 L776.7,835.3 M794.9,809.9 L796.3,827.7" stroke="#3a4c9c" stroke-width="1.1" fill="none" opacity="0.85"/>
<path d="M665.9,979.1 L681.1,975.3 L680.4,985Z M898.3,973.4 L898.3,986.5 L890.6,984.1Z M917.3,973.8 L915.3,986 L908.4,982.5Z M649.4,991.1 L666.9,990.2 L664.1,1000.7Z M675.3,1001.8 L691.6,995.1 L692.4,1006Z M694.5,998.7 L713.2,990.9 L714.2,1003.4Z M932.2,993.3 L928.8,1003.9 L923.2,999.8Z M952.4,990 L951.4,1002.2 L944.4,999.3Z M645.4,1014.7 L662.3,1011.4 L661,1021.9Z M662,1014.4 L678.2,1017.5 L673.3,1026.4Z M893.7,1007.7 L892.9,1022 L884.7,1018.8Z M958.5,1003.9 L962.8,1018.3 L953.5,1018.1Z M698.7,1033.9 L715.2,1029.5 L714.6,1040.1Z M908.2,1030.5 L903.4,1044.2 L896.3,1038.7Z M711.9,1049.4 L727.4,1048.5 L724.9,1057.9Z M717.8,1069.1 L730.7,1061.6 L732.7,1070.7Z M874,964.4 L874.1,976.7 L866.5,974Z M897.1,964.8 L900.9,979.9 L890.6,979Z M921.3,967.7 L915.5,982.3 L907.7,975.5Z M938.3,964.2 L932.6,975.5 L926.8,969.5Z M654.9,984.1 L669.5,980.5 L668.5,990.4Z M677.7,983.5 L689.5,981.2 L688.4,989.1Z M696.5,987.6 L709.5,985.3 L708.1,994Z M765.7,985.3 L777.2,981.3 L777.2,989.3Z M882.9,985.3 L878.6,999.7 L870.6,993.9Z M927.2,980.4 L924,993.4 L916.6,988.6Z M948.6,984.2 L949.3,998.3 L940.3,995.6Z M646.4,999.2 L660.4,1001.2 L656,1009.5Z M661.8,1008.3 L675.1,1001.1 L676.6,1011Z M706.9,1012.4 L716.7,1003.3 L720.3,1011.4Z M813.4,1000.4 L806.3,1014.2 L799.2,1006.8Z M829.5,996 L832.2,1010.7 L822.4,1009.2Z M856.4,999.7 L849.8,1012.6 L843.2,1005.7Z M923.5,1001.6 L916.1,1014.8 L909.5,1007.4Z M965.6,1004.2 L957.9,1018 L951,1010.2Z M631.7,1027.1 L643.3,1022.5 L643.7,1030.7Z M678.2,1023.5 L693.2,1022.9 L690.3,1032.4Z M719.7,1022.1 L733,1014.8 L734.6,1024.7Z M817.4,1014.8 L817.2,1029.1 L808.4,1025.9Z M881,1017.9 L882.5,1033 L872.8,1030.6Z M907.7,1023.9 L900.4,1034.3 L895.6,1027.5Z M933.1,1023.5 L924.5,1034.2 L919.7,1026.5Z M950,1020.3 L951.7,1035.4 L941.9,1033.2Z M641,1047.6 L653.6,1039.3 L656,1048.9Z M664.1,1038.8 L678.6,1033.9 L678.4,1044.1Z M712.2,1035.6 L725.7,1037.2 L721.7,1045.3Z M731.2,1043.2 L743.8,1039.1 L743.6,1047.9Z M812.3,1036.9 L805.6,1050.8 L798.4,1043.6Z M918.9,1036.2 L913.1,1050.9 L905.2,1044.2Z M945.3,1037.6 L938.7,1051.9 L931.2,1044.7Z M658.4,1062.3 L670.1,1058.5 L669.9,1066.6Z M696.9,1059.4 L708.5,1053.7 L709.5,1062.2Z M725.8,1060.9 L738.7,1062.3 L735.1,1070Z M741.7,1060.2 L751.8,1053.6 L753.7,1061.3Z M817.2,1056.2 L818.8,1069.1 L810.4,1067.3Z M866.7,1051.6 L862.8,1066.6 L854.3,1060.9Z" fill="#8a5a4a" opacity="0.3"/>
<path d="M806.7,842.3 L800.3,834.1 L806.4,832Z M818.7,861.2 L814.3,849.8 L821.9,849.3Z M789.6,878.8 L781.9,871.2 L787.9,868.1Z M826.6,878.5 L822.6,866.3 L830.6,866.3Z M853.7,878.2 L847,867.3 L854.7,865.4Z M753.5,897.7 L745.4,889.4 L751.9,886.3Z M790.9,891.2 L788.4,880.4 L795.2,881.1Z M766.5,916 L759.1,905.9 L766.4,903.5Z M755.3,926.8 L749,919.2 L754.7,916.9Z M744.2,948.2 L737.9,939.6 L744.2,937.6Z M782.4,951.1 L774.6,941 L782.1,938.3Z M808.5,946.3 L802.1,934.8 L810.2,933.3Z M875.1,947.4 L866.7,941.9 L871.5,938Z M844.3,967.2 L837.7,961.6 L842.3,958.8Z M862.6,964.7 L857.1,955.5 L863.5,954Z M794.4,1065.3 L798.8,1071.8 L794.1,1073.1Z M862,1065.2 L868.3,1072.9 L862.6,1075.1Z M759.6,1078.8 L766.2,1087.1 L760.1,1089.4Z M779,1082.9 L789.2,1088.9 L783.7,1093.7Z M797.7,1082.2 L807.7,1087.3 L802.7,1092.3Z M828.5,1077.6 L833.7,1088.8 L826.1,1089.7Z M841.8,1086.3 L853.1,1091.6 L847.8,1097.3Z M768.2,1100.7 L779.4,1102 L776.5,1108.3Z M816.5,1096.3 L817.7,1107.9 L810.7,1106.4Z M828.6,1101.9 L840.1,1102 L837.8,1108.8Z M784.8,1121.8 L785.2,1131.6 L779.4,1130Z M806.9,1118.4 L811.2,1128.5 L804.4,1129.2Z M827,1119.2 L836.9,1126.7 L830.6,1131.1Z M787.3,1137.3 L797.6,1137.6 L795.5,1143.6Z M752.7,1152.5 L764.5,1156.4 L760,1162.6Z M804,1154.3 L806.5,1166.6 L798.8,1165.6Z M844.6,1157.5 L857.4,1161 L852.9,1167.8Z M785,1177.3 L797,1176.7 L795.1,1183.9Z M831.9,1173.4 L841.8,1176.5 L838.1,1181.8Z M772.9,852.5 L762.5,842 L771.4,837.8Z M795.6,849.6 L783.2,840.3 L791.7,834.6Z M845.1,846.6 L833.2,842 L838.6,835.6Z M770.3,864.4 L757,856.2 L765,849.8Z M788.8,865.5 L777.4,860.5 L783,854.5Z M826.4,870.6 L816.9,859.8 L825.7,856.2Z M848.4,873.5 L842.3,860 L852.1,859.2Z M756.6,884.9 L745.2,879.5 L751.1,873.6Z M776.5,887.5 L770.3,875 L779.4,873.9Z M842.1,889.9 L836.4,877.9 L845.1,877Z M867.6,881.5 L855.9,876.6 L861.6,870.3Z M761.6,900.2 L751,894.7 L756.7,889.3Z M785.6,902.8 L780.2,891.4 L788.6,890.5Z M853.9,903 L843.3,894.6 L850.8,889.8Z M756.8,924.7 L746.5,914.9 L754.8,910.7Z M772.2,925.9 L767.1,913.2 L776.1,912.8Z M795.8,923.6 L787.2,911.1 L796.8,908.5Z M820.9,922.3 L811.4,911.4 L820.3,907.8Z M845.3,922.5 L833.6,917.9 L839,911.6Z M865.5,920.1 L855.9,908.8 L865,905.3Z M769.5,939 L756.8,934.4 L762.5,927.5Z M810.4,937.8 L802.5,929 L809.7,926Z M830.1,940 L819,931.3 L826.9,926.2Z M875.3,936.8 L864.7,927.7 L872.6,923.1Z M795.7,956.8 L791.4,945.3 L799.5,945.2Z M817.9,956 L806,945.7 L815,940.5Z M867.6,954.1 L853.8,949.2 L859.9,941.7Z M743.3,973.5 L732.3,963.7 L740.8,959Z M760.4,1072.9 L772.7,1081.4 L764.7,1087.2Z M804.2,1070.6 L814.5,1079.9 L806.5,1084.3Z M823,1077.4 L835.6,1081 L830.6,1088Z M749.3,1091.3 L757.5,1100 L750.3,1103.2Z M769.5,1090.4 L781.6,1094.1 L776.6,1100.8Z M810,1091.6 L823.1,1099.4 L815.4,1105.9Z M828.8,1093.3 L841.1,1096.8 L836.3,1103.7Z M758.8,1109.9 L768.9,1118.7 L761.2,1123Z M820.3,1113.5 L833.2,1118.1 L827.5,1125.2Z M866.1,1107.7 L877.9,1114 L871.4,1120Z M768.8,1128.7 L781,1133.5 L775.4,1140.1Z M790.6,1132 L801.6,1136.4 L796.4,1142.3Z M836.3,1122.7 L843,1133 L835.2,1135Z M751.4,1144.2 L764.4,1147.1 L759.8,1154.5Z M785,1146.3 L790.4,1156.8 L782.6,1157.9Z M804.4,1139.3 L811,1152 L801.6,1153.3Z M826.3,1144.7 L831.9,1156.1 L823.5,1157.1Z M843.6,1142.6 L854.8,1147.5 L849.3,1153.4Z M840,1157.9 L845.3,1169.4 L836.9,1170.2Z M776.9,1182.5 L791.3,1186.8 L785.5,1194.8Z M795.7,1182.8 L808.8,1185.7 L804.1,1193.2Z" fill="#7a3320" opacity="0.38"/>
<path d="M782.7,831.9 L778.7,819.8 M827.3,829.5 L824.4,817.9 M767.1,845.6 L762.4,831.6 M790,845.5 L786.1,833 M835.2,852.5 L828,841.6 M758.8,863.1 L756.8,849.5 M805.7,867.3 L803.8,857.5 M768.5,882.7 L764.8,871.3 M811.3,886.2 L807.2,879.1 M839.6,885.3 L834.4,872.9 M861.7,887.8 L860.4,879.6 M740.8,908 L735.3,900 M778.3,899.6 L774.7,887.4 M805.2,900.6 L800.6,893 M823.9,900.8 L819.7,888.5 M851.8,900.2 L849.3,886.2 M866.9,906.2 L864.4,895.3 M795.7,925.4 L786.7,914.3 M811.4,925.4 L804.5,917.7 M838.4,921.9 L830,910.3 M856.1,918.2 L853.5,909.1 M757.2,938.7 L752.9,927.9 M826.9,935.4 L825.4,926.2 M848.9,935.8 L843,928.5 M749.6,955.7 L747.8,945.5 M770.8,961.6 L769.1,954.9 M878,956.9 L873.4,948 M897.3,965 L894.9,967.1 M807.8,984.2 L807.2,986.2 M870.3,984.7 L866.6,990.5 M935,980.5 L932.2,986.8 M812.8,999.9 L812.2,1000.8 M860.1,996.8 L858.6,1000 M879.5,999.2 L872.2,1008.6 M898.3,997.5 L897.5,998.4 M846.3,1021.1 L844.9,1025.9 M911.5,1016.6 L905.3,1025.1 M934.3,1016.7 L928.9,1022.5 M839.7,1038 L837.6,1042.7 M880,1036.4 L877.8,1038.9 M920.2,1039 L914.8,1048.8 M843,1057.4 L839.5,1061.8 M914.8,1052.5 L908.7,1058.9 M752.7,1075 L760.3,1080.7 M872.8,1088.4 L879.3,1092.5 M750,1108.5 L759.9,1116 M791.2,1105.7 L793.5,1115.9 M859,1111.5 L862.4,1120.8 M761.1,1127.4 L767.9,1134.7 M850.1,1126.5 L855.2,1133.6 M773.7,1147.2 L777.4,1152.7 M817.3,1143.1 L821.9,1153.3 M845.7,1144.7 L856.2,1152.3 M858.4,1145.8 L860.3,1159 M785.5,1163.8 L790.4,1173.5 M829.2,1161.6 L832.5,1167.8 M817.2,1181.2 L818.4,1192.2 M801.6,1195.6 L802.2,1208.9" stroke="#33479a" stroke-width="1.3" fill="none" opacity="0.85"/>
<path d="M785.8,841.2 L779.4,833 L786.1,830.8Z M829.8,839.6 L824,830.3 L830.6,828.7Z M769.8,853.5 L764.1,846.6 L770.1,844.6Z M792.7,853.8 L787.5,846.3 L792.6,844.7Z M841.2,861.6 L832.4,854.3 L837.9,850.7Z M760.4,873.1 L755.3,863.6 L762.4,862.5Z M807.8,877.5 L802.4,868 L809.1,866.7Z M771.3,891.3 L765.5,883.6 L771.5,881.7Z M816.1,894.4 L808.1,888 L814.5,884.3Z M843,893.4 L836.5,886.6 L842.7,884Z M863.1,896.4 L859,888.2 L864.4,887.3Z M745.5,914.7 L738.3,909.8 L743.4,906.3Z M781.3,910 L774.6,900.7 L781.9,898.5Z M809.7,908.1 L802.9,902 L807.6,899.1Z M826.5,908.4 L821.6,901.6 L826.2,900Z M853.6,910.6 L848.2,900.8 L855.3,899.5Z M869.2,915.8 L863.4,907 L870.5,905.4Z M801.2,932.3 L793.2,927.4 L798.2,923.4Z M818.3,933.2 L809.1,927.5 L813.8,923.3Z M843.8,929.5 L835.7,923.8 L841.1,920Z M858.8,927.9 L853.1,919 L859.1,917.3Z M760.1,946.2 L754.6,939.7 L759.7,937.7Z M828.2,944 L824.1,935.8 L829.6,935Z M855.2,943.7 L846.1,938 L851.7,933.6Z M751.4,965.9 L746.2,956.3 L753,955.1Z M772.7,969.1 L768.2,962.3 L773.4,960.9Z M882.9,966.6 L874.5,958.7 L881.4,955.1Z M905.8,958 L899.8,968 L894.9,962.1Z M688.1,980.2 L701.6,975.5 L701.8,984.2Z M710.7,977.8 L723,973.9 L722.4,983Z M754.8,982.4 L762.8,977.7 L764.1,983Z M810.1,977.1 L810.5,985.1 L805.2,983.3Z M877.1,973.8 L874.3,987.2 L866.2,982.2Z M938.9,971.8 L937.7,981.7 L932.3,979.3Z M636.1,997.5 L650.1,996.9 L646.9,1006.4Z M716.9,996.7 L731.2,990 L732,1001.2Z M747.9,997.2 L758.6,993 L759,1000.6Z M768.1,995.3 L779.7,990 L780.6,997.5Z M790.8,997.1 L803.6,996.1 L801.9,1003.6Z M816.6,993.9 L814.8,1001.1 L810.9,998.6Z M863.7,988.7 L862.9,998 L857.3,995.5Z M886.4,990.4 L882.5,1001.5 L876.6,996.9Z M904.7,990.5 L900.7,999.7 L895.9,995.3Z M708,1013.1 L721.7,1010.2 L720.2,1020Z M848.6,1013.7 L848.8,1021.9 L843.9,1020.4Z M917.3,1008.7 L914.3,1018.7 L908.8,1014.6Z M941.5,1009 L936.8,1019.1 L931.8,1014.4Z M633.3,1032 L646.8,1027.6 L646.8,1036.4Z M652.7,1029 L666.7,1026 L665.2,1036.1Z M679.7,1034.4 L692.9,1033.9 L690.9,1041.3Z M717.9,1036.7 L732.5,1030.5 L733.4,1039.8Z M842.3,1032 L841.6,1038.9 L837.7,1037.2Z M888.3,1027.2 L883.6,1039.5 L876.5,1033.2Z M925.6,1029.4 L923.8,1041 L916.7,1037Z M642.8,1051.9 L655,1044.3 L657,1053.9Z M666.7,1050.4 L680,1042.3 L682,1053.3Z M687.3,1047.6 L700.6,1047 L698.4,1055.1Z M732.2,1051.6 L745.3,1050.5 L743.4,1058.6Z M753.8,1048.4 L762.6,1044.1 L763.4,1049.8Z M848.1,1050.9 L845.1,1059 L840.9,1055.8Z M923.3,1043.5 L917.6,1055.2 L912,1049.8Z M699.9,1068.2 L717.6,1067.3 L714.4,1078.4Z M746.1,1070.2 L754.4,1072.6 L750.9,1077.4Z M864.5,1083.2 L874.7,1085.4 L870.9,1091.4Z M742.3,1102.7 L752.2,1105.6 L747.8,1111.5Z M789.3,1097.4 L794.2,1105.1 L788.2,1106.4Z M855.9,1102.9 L862.3,1110.4 L855.8,1112.7Z M755,1120.9 L763.3,1125.3 L758.8,1129.5Z M845.4,1119.8 L852.7,1124.7 L847.5,1128.4Z M767.8,1138.5 L777.1,1145 L770.4,1149.5Z M813,1133.4 L820.9,1141.5 L813.8,1144.6Z M837.3,1138.5 L847.6,1142 L843.8,1147.3Z M856.9,1136 L861.6,1145.3 L855.1,1146.3Z M781,1154.9 L788.8,1162.2 L782.3,1165.5Z M824,1152.1 L832.4,1159.8 L825.9,1163.4Z M816.1,1170.5 L820.7,1180.9 L813.7,1181.6Z M801.2,1187.6 L804.5,1195.5 L798.6,1195.7Z M808.1,831.5 L804.4,823.6 L811.4,823.4Z M818.2,831.4 L813.5,824 L820.5,823Z M832.1,834.6 L827.3,827.3 L834.2,826.1Z M836.5,838.3 L832.7,830.4 L839.7,830.1Z M844,842.2 L839.2,834.8 L846.1,833.7Z M845.6,847.3 L842.7,839.1 L849.6,839.6Z M856.5,858.7 L853.1,850.7 L860.1,850.8Z M867,871.4 L862.9,863.7 L869.9,863.2Z M872,892.4 L869,884.2 L876,884.6Z M875,899.5 L870.4,892 L877.3,891.1Z M875.4,907 L872.2,898.9 L879.2,899.2Z M877.8,914.4 L874,906.6 L881,906.3Z M876.8,921.7 L874.3,913.4 L881.3,914.2Z M882.5,929.2 L878.2,921.6 L885.1,920.9Z M870.2,1100.4 L878,1096.5 L878.4,1103.4Z M869.6,1115 L877.6,1111.5 L877.7,1118.5Z M869,1121.9 L877.4,1119.3 L876.6,1126.3Z M868.1,1130 L876,1126.2 L876.3,1133.2Z M858,1163.1 L866.8,1163.2 L863.8,1169.6Z M850.1,1175.1 L858.9,1175.7 L855.7,1181.9Z M846.7,1178.9 L854.2,1183.4 L848.5,1187.5Z M841.6,1183.2 L848.4,1188.7 L842.2,1191.9Z M835.6,1186.9 L842.3,1192.5 L836,1195.6Z M809.2,1193.9 L813.7,1201.4 L806.7,1202.3Z M785,1186.7 L782.8,1195.1 L777.3,1190.8Z M779.3,1182.5 L776.9,1190.9 L771.5,1186.4Z M769.3,1172.3 L766.1,1180.5 L761.1,1175.6Z M757.6,1154.7 L752.9,1162.1 L749,1156.3Z M754.5,1148.2 L749.6,1155.4 L745.8,1149.5Z M752.3,1143.1 L744.9,1147.8 L743.9,1140.8Z M747.8,1127.9 L741.8,1134.2 L739,1127.8Z M746.5,1122 L738.8,1126.1 L738.3,1119.1Z M744.4,1107.4 L736.6,1111.4 L736.3,1104.4Z M743.6,1099.6 L736.2,1104.2 L735.2,1097.3Z M743.3,1093.5 L735,1096 L735.8,1089.1Z M734,939.9 L730.4,931.9 L737.4,931.9Z M736.5,924.8 L732.2,917.2 L739.2,916.5Z M738.1,917.3 L733.6,909.8 L740.5,908.9Z M740.2,909.6 L735.3,902.3 L742.2,901.1Z M734.7,902.4 L732,894.2 L738.9,894.8Z M739.8,887.8 L736.5,879.7 L743.5,879.9Z M750.1,867 L746.5,859.1 L753.5,859Z M753.1,860.6 L749.8,852.5 L756.8,852.7Z M755.7,854.6 L752.1,846.6 L759.1,846.6Z M760.8,849 L757.3,841 L764.3,841Z M777.1,839.6 L772.9,832 L779.9,831.4Z M796.7,832.1 L792.5,824.4 L799.5,823.8Z M889.1,937 L875.4,946.4 L872.6,939.2Z M950.6,954.9 L936.3,968.9 L932,962.2Z M962.9,960.8 L949,974.8 L945,968.9Z M972.8,973.8 L959.6,983.8 L956.6,977.3Z M992.1,995.5 L974.9,1007.8 L971.3,999Z M992.8,1001.8 L975.1,1020 L969.5,1012Z M985,1016.1 L971.6,1026.9 L967.9,1018.1Z M970.6,1029.7 L959.5,1042.5 L954.4,1034.7Z M934.7,1047.4 L919.6,1058.1 L916.4,1050.2Z M924.7,1046.4 L913,1058.7 L908.3,1050.7Z M901.3,1047.7 L889.6,1059.5 L885.7,1053.7Z M727.6,1086.9 L743.5,1080.6 L744.4,1089.9Z M724.8,1079.4 L737.9,1068.4 L741.8,1078.4Z M713.1,1082.8 L724.2,1067.6 L729.8,1074.2Z M689.2,1084.4 L702.5,1066.7 L708.9,1074.3Z M682.4,1081.1 L695.8,1066.2 L701.1,1073.8Z M675.2,1081.5 L688.8,1065.4 L694.4,1072.8Z M667.8,1081.8 L681,1063.7 L687.9,1071.9Z M657.1,1076.9 L675.4,1062 L679.7,1070.4Z M651.5,1073.9 L668.3,1059.7 L672.9,1068.9Z M644.7,1072 L662,1057.7 L666.4,1066.2Z M634.6,1072.5 L655.3,1054.9 L660.1,1063.2Z M623.7,1064.3 L643.7,1047.4 L648.7,1056.5Z M616.6,1051.4 L635.3,1038.6 L638.9,1047.1Z M607.5,1044.9 L632.1,1032.8 L634.7,1041.4Z M601,1038.8 L629,1026.4 L631.5,1035.7Z M606.4,1017.5 L628.8,1014.8 L627.6,1025Z M603.5,1007.9 L630.1,1009.3 L628.2,1017.8Z M602.6,1002.7 L632,1002.3 L630.3,1012.6Z M611.2,996.6 L635.4,997.4 L632.8,1007.6Z M621.1,985.6 L644.8,988.5 L641.9,997.3Z M625.8,979.2 L650.3,985.2 L646.8,993.2Z M632.2,974.5 L656.8,981.4 L652.3,990.3Z M651.5,965.9 L676.8,973.7 L671.9,982.8Z M679.2,963.3 L698.1,969.9 L692.6,978.2Z M688.8,963.3 L705.8,968.8 L699.9,977.3Z M694.3,957.4 L713.1,969 L707.3,975.2Z" fill="#2b4193"/>
<path d="M805.8,781.6 L805.8,1235.1" stroke="#555" stroke-width="1.2" opacity="0.6400000000000001" fill="none"/>
<path d="M589.6,1031.7 L993,997.7" stroke="#555" stroke-width="1.1" opacity="0.52" fill="none"/>
<path d="M703.5,981.5 L942.8,1051.7" stroke="#555" stroke-width="1.1" opacity="0.5599999999999999" fill="none"/>
<g clip-path="url(#c2)">
<path d="M805.8,781.6 L805.8,1235.1" stroke="#2a1408" stroke-width="1.2" opacity="0.7" fill="none"/>
<path d="M589.6,1031.7 L993,997.7" stroke="#2a1408" stroke-width="1.1" opacity="0.7" fill="none" stroke-dasharray="5 2"/>
<path d="M703.5,981.5 L942.8,1051.7" stroke="#2a1408" stroke-width="1.1" opacity="0.7" fill="none" stroke-dasharray="5 2"/>
</g>
<defs><clipPath id="c3"><path d="M1345.5,979.6 C1350.1,979.5 1354.4,973.8 1359.8,970.5 C1365.2,967.2 1371.4,962.8 1378,959.8 C1384.6,956.8 1392,953.8 1399.5,952.3 C1407,950.8 1415,950.3 1422.7,950.7 C1430.4,951.1 1438.4,952.6 1445.8,954.8 C1453.2,957 1460.7,960 1467.3,963.9 C1473.9,967.8 1480.2,972.9 1485.5,978 C1490.8,983.1 1495.2,988.7 1498.8,994.5 C1502.4,1000.3 1505.3,1006.4 1507.1,1012.7 C1508.9,1019.1 1509.7,1026 1509.5,1032.6 C1509.3,1039.2 1508.3,1046.2 1506.2,1052.5 C1504.1,1058.8 1501.1,1064.9 1497.1,1070.7 C1493.1,1076.5 1488,1082.2 1482.2,1087.2 C1476.4,1092.2 1469.6,1097 1462.4,1100.4 C1455.2,1103.9 1446.9,1106.5 1439.2,1107.9 C1431.5,1109.3 1423.7,1109.2 1416,1108.7 C1408.3,1108.2 1400.3,1106.8 1392.9,1104.6 C1385.5,1102.4 1377.8,1098.4 1371.4,1095.5 C1365.1,1092.6 1359.1,1089.3 1354.8,1087.2 C1350.5,1085.1 1347.9,1082.7 1345.5,1083 C1343.1,1083.3 1343.4,1086 1340.3,1088.9 C1337.2,1091.8 1332.3,1096.6 1327.1,1100.4 C1321.9,1104.2 1315.5,1109 1308.9,1112 C1302.3,1115 1295.1,1117.3 1287.4,1118.6 C1279.7,1119.8 1271.1,1120.5 1262.5,1119.5 C1253.9,1118.5 1244.3,1116.1 1236,1112.9 C1227.7,1109.7 1219.8,1105.2 1212.9,1100.4 C1206,1095.6 1199.7,1089.7 1194.7,1083.9 C1189.7,1078.1 1185.9,1072.1 1183.1,1065.7 C1180.3,1059.3 1178.8,1052.7 1178.1,1045.8 C1177.4,1038.9 1177.3,1031.5 1179,1024.3 C1180.7,1017.1 1184.1,1009.4 1188.1,1002.8 C1192.1,996.2 1197.2,990 1203,984.6 C1208.8,979.2 1215.6,974.5 1222.8,970.5 C1230,966.5 1238.3,962.9 1246,960.6 C1253.7,958.3 1261.6,957 1269.1,956.5 C1276.5,956 1283.5,956.2 1290.7,957.3 C1297.9,958.4 1305.3,960.8 1312.2,963.1 C1319.1,965.5 1326.5,968.6 1332,971.4 C1337.5,974.1 1340.9,979.8 1345.5,979.6Z"/></clipPath><radialGradient id="g3l" cx="0.5" cy="0.5" r="0.5"><stop offset="0" stop-color="#fd972c" stop-opacity="0.95"/><stop offset="0.6" stop-color="#fa8a27" stop-opacity="0.7"/><stop offset="1" stop-color="#f77a22" stop-opacity="0"/></radialGradient></defs>
<path d="M1345.5,979.6 C1350.1,979.5 1354.4,973.8 1359.8,970.5 C1365.2,967.2 1371.4,962.8 1378,959.8 C1384.6,956.8 1392,953.8 1399.5,952.3 C1407,950.8 1415,950.3 1422.7,950.7 C1430.4,951.1 1438.4,952.6 1445.8,954.8 C1453.2,957 1460.7,960 1467.3,963.9 C1473.9,967.8 1480.2,972.9 1485.5,978 C1490.8,983.1 1495.2,988.7 1498.8,994.5 C1502.4,1000.3 1505.3,1006.4 1507.1,1012.7 C1508.9,1019.1 1509.7,1026 1509.5,1032.6 C1509.3,1039.2 1508.3,1046.2 1506.2,1052.5 C1504.1,1058.8 1501.1,1064.9 1497.1,1070.7 C1493.1,1076.5 1488,1082.2 1482.2,1087.2 C1476.4,1092.2 1469.6,1097 1462.4,1100.4 C1455.2,1103.9 1446.9,1106.5 1439.2,1107.9 C1431.5,1109.3 1423.7,1109.2 1416,1108.7 C1408.3,1108.2 1400.3,1106.8 1392.9,1104.6 C1385.5,1102.4 1377.8,1098.4 1371.4,1095.5 C1365.1,1092.6 1359.1,1089.3 1354.8,1087.2 C1350.5,1085.1 1347.9,1082.7 1345.5,1083 C1343.1,1083.3 1343.4,1086 1340.3,1088.9 C1337.2,1091.8 1332.3,1096.6 1327.1,1100.4 C1321.9,1104.2 1315.5,1109 1308.9,1112 C1302.3,1115 1295.1,1117.3 1287.4,1118.6 C1279.7,1119.8 1271.1,1120.5 1262.5,1119.5 C1253.9,1118.5 1244.3,1116.1 1236,1112.9 C1227.7,1109.7 1219.8,1105.2 1212.9,1100.4 C1206,1095.6 1199.7,1089.7 1194.7,1083.9 C1189.7,1078.1 1185.9,1072.1 1183.1,1065.7 C1180.3,1059.3 1178.8,1052.7 1178.1,1045.8 C1177.4,1038.9 1177.3,1031.5 1179,1024.3 C1180.7,1017.1 1184.1,1009.4 1188.1,1002.8 C1192.1,996.2 1197.2,990 1203,984.6 C1208.8,979.2 1215.6,974.5 1222.8,970.5 C1230,966.5 1238.3,962.9 1246,960.6 C1253.7,958.3 1261.6,957 1269.1,956.5 C1276.5,956 1283.5,956.2 1290.7,957.3 C1297.9,958.4 1305.3,960.8 1312.2,963.1 C1319.1,965.5 1326.5,968.6 1332,971.4 C1337.5,974.1 1340.9,979.8 1345.5,979.6Z" fill="#f6771f"/>
<g clip-path="url(#c3)">
<path d="M1345.5,979.6 C1350.1,979.5 1354.4,973.8 1359.8,970.5 C1365.2,967.2 1371.4,962.8 1378,959.8 C1384.6,956.8 1392,953.8 1399.5,952.3 C1407,950.8 1415,950.3 1422.7,950.7 C1430.4,951.1 1438.4,952.6 1445.8,954.8 C1453.2,957 1460.7,960 1467.3,963.9 C1473.9,967.8 1480.2,972.9 1485.5,978 C1490.8,983.1 1495.2,988.7 1498.8,994.5 C1502.4,1000.3 1505.3,1006.4 1507.1,1012.7 C1508.9,1019.1 1509.7,1026 1509.5,1032.6 C1509.3,1039.2 1508.3,1046.2 1506.2,1052.5 C1504.1,1058.8 1501.1,1064.9 1497.1,1070.7 C1493.1,1076.5 1488,1082.2 1482.2,1087.2 C1476.4,1092.2 1469.6,1097 1462.4,1100.4 C1455.2,1103.9 1446.9,1106.5 1439.2,1107.9 C1431.5,1109.3 1423.7,1109.2 1416,1108.7 C1408.3,1108.2 1400.3,1106.8 1392.9,1104.6 C1385.5,1102.4 1377.8,1098.4 1371.4,1095.5 C1365.1,1092.6 1359.1,1089.3 1354.8,1087.2 C1350.5,1085.1 1347.9,1082.7 1345.5,1083 C1343.1,1083.3 1343.4,1086 1340.3,1088.9 C1337.2,1091.8 1332.3,1096.6 1327.1,1100.4 C1321.9,1104.2 1315.5,1109 1308.9,1112 C1302.3,1115 1295.1,1117.3 1287.4,1118.6 C1279.7,1119.8 1271.1,1120.5 1262.5,1119.5 C1253.9,1118.5 1244.3,1116.1 1236,1112.9 C1227.7,1109.7 1219.8,1105.2 1212.9,1100.4 C1206,1095.6 1199.7,1089.7 1194.7,1083.9 C1189.7,1078.1 1185.9,1072.1 1183.1,1065.7 C1180.3,1059.3 1178.8,1052.7 1178.1,1045.8 C1177.4,1038.9 1177.3,1031.5 1179,1024.3 C1180.7,1017.1 1184.1,1009.4 1188.1,1002.8 C1192.1,996.2 1197.2,990 1203,984.6 C1208.8,979.2 1215.6,974.5 1222.8,970.5 C1230,966.5 1238.3,962.9 1246,960.6 C1253.7,958.3 1261.6,957 1269.1,956.5 C1276.5,956 1283.5,956.2 1290.7,957.3 C1297.9,958.4 1305.3,960.8 1312.2,963.1 C1319.1,965.5 1326.5,968.6 1332,971.4 C1337.5,974.1 1340.9,979.8 1345.5,979.6Z" fill="none" stroke="#e65719" stroke-width="12" filter="url(#b6)" opacity="0.95"/>
<ellipse cx="1275" cy="1022" rx="80" ry="62" fill="url(#g3l)"/>
<ellipse cx="1440" cy="1010" rx="72" ry="58" fill="url(#g3l)"/>
<ellipse cx="1250" cy="1095" rx="70" ry="20" transform="rotate(12 1250 1095)" fill="#ea5c1a" opacity="0.5" filter="url(#b6)"/>
<ellipse cx="1430" cy="1090" rx="66" ry="18" transform="rotate(-10 1430 1090)" fill="#ea5c1a" opacity="0.5" filter="url(#b6)"/>
<ellipse cx="1354" cy="1056" rx="5" ry="32" fill="#fdb050" opacity="0.55" filter="url(#b3)"/>
<ellipse cx="1368" cy="1040" rx="9" ry="40" fill="#dc541a" opacity="0.45" filter="url(#b6)"/>
</g>
<path d="M1248.1,962.5 L1260.4,966 L1255.8,972.7Z M1285.4,976.6 L1295.3,984.5 L1288.8,988.8Z M1382.6,975.9 L1385.9,986.4 L1378.5,986Z M1436.4,974.5 L1435.7,985.3 L1429,982.4Z M1249.2,996.4 L1261.1,999.5 L1257.2,1005.9Z M1274.8,1000.2 L1288,1000 L1285.6,1007.8Z M1299.7,989.2 L1311,997.8 L1304.1,1002.7Z M1401.4,995.1 L1400.6,1007 L1393,1003.7Z M1362.2,1011.8 L1368,1016.9 L1363.4,1019.4Z M1180.2,1029.3 L1193.3,1032.7 L1188,1040.3Z M1229,1032.7 L1242.5,1032.5 L1239.6,1041.1Z M1325.1,1032.9 L1334.5,1032.7 L1332.8,1038.2Z M1376.4,1032 L1379.3,1038.9 L1374.7,1039.3Z M1397.1,1032 L1395.4,1044.5 L1388.2,1041Z M1193.1,1057.2 L1207.7,1051.4 L1208.4,1060.8Z M1236,1054.9 L1252.3,1051.2 L1251.2,1061.8Z M1334.3,1056.7 L1335.4,1049.6 L1339.6,1051.7Z M1413.9,1051.1 L1400.7,1057.7 L1399.4,1048.7Z M1245.7,1076 L1255.9,1067.1 L1259.2,1075.3Z M1274.1,1075 L1279.3,1060.8 L1287.1,1067.3Z M1328.9,1074.4 L1329.3,1067.4 L1333.2,1068.9Z M1343.1,1071.7 L1347.5,1065.2 L1350.5,1069Z M1471.8,1070.1 L1458.4,1068.6 L1462.3,1060.5Z M1458.8,1090 L1446.6,1085.7 L1451,1079.6Z M1253.8,1111.5 L1262,1100.8 L1266.7,1107.6Z M1276.7,1115.1 L1282.7,1101.2 L1289.8,1107.3Z M1302.2,1111 L1301.4,1096.9 L1309.7,1099Z" fill="#8a5a4a" opacity="0.3"/>
<path d="M1276.3,960.1 L1285.1,969.6 L1277.2,973Z M1395.8,955.4 L1401.3,966.9 L1392.5,967.7Z M1421.6,959.2 L1420.8,969.6 L1414.7,967Z M1214.8,982.6 L1230.3,981 L1228.4,990.3Z M1241.2,975.4 L1255.9,982.5 L1248.4,990Z M1259.6,976 L1270.9,982.2 L1265.4,987.5Z M1310.8,972.1 L1314.8,981.6 L1308.7,982.2Z M1360.2,977.3 L1364.3,982.2 L1360.8,983.7Z M1413.3,973.1 L1408.4,984.4 L1402.9,979.8Z M1462.7,974 L1454.7,985.3 L1449.4,977.6Z M1480.9,979 L1474.4,986.8 L1471.1,981.7Z M1203,996.3 L1214.8,997.3 L1211.5,1004.5Z M1224,996.3 L1238.9,997.8 L1234.4,1007.1Z M1324.3,992.3 L1330.5,998.1 L1325.7,1000.6Z M1351,995.4 L1354.5,1001 L1350.8,1002.1Z M1373.7,992.9 L1375.6,999.7 L1371.3,999.5Z M1452.5,991.3 L1445.8,1002.1 L1440.8,996.2Z M1474.1,998 L1467.7,1005.6 L1464.4,1000.3Z M1189.7,1019.6 L1200.6,1014.5 L1201.6,1021.4Z M1214.9,1019.9 L1226.3,1014.5 L1227.2,1022.9Z M1234.6,1013.2 L1250.7,1008.9 L1250.3,1018.7Z M1263.6,1016.2 L1277.7,1018.2 L1273,1026.9Z M1283,1012.2 L1298,1015.7 L1293.4,1023.5Z M1317.1,1009.8 L1322.4,1015.4 L1318.1,1017.4Z M1338.4,1015.3 L1341.5,1024.7 L1335.4,1024.7Z M1383.1,1011.4 L1385.5,1025.6 L1375.7,1023.7Z M1415.5,1014.3 L1411.9,1025.2 L1406.2,1020.9Z M1436.8,1008 L1430.8,1021 L1424.2,1014.8Z M1487.1,1018.1 L1477.2,1022.6 L1476.6,1015.5Z M1198.4,1037 L1213.4,1034 L1212,1043.9Z M1247.6,1034.3 L1258.4,1028.8 L1259.6,1036.1Z M1276,1034 L1285.9,1027.1 L1288,1034.9Z M1294.4,1031.9 L1310.9,1030.3 L1308.7,1040.3Z M1343.9,1032.5 L1351.2,1035.6 L1347.9,1039.4Z M1424.4,1033.4 L1412.5,1040 L1410.9,1031.7Z M1452.9,1034 L1442.6,1044 L1438.6,1034.8Z M1472.2,1036.9 L1461.8,1038.9 L1462.6,1032.5Z M1499.3,1031.2 L1488.4,1036.8 L1487.3,1028.8Z M1215,1057.9 L1228.6,1048.8 L1231.4,1058.3Z M1258.1,1054.1 L1270.9,1048.7 L1271.5,1057.8Z M1283,1054.6 L1294,1045.9 L1296.9,1053.6Z M1310.7,1056.4 L1315.2,1050.7 L1317.7,1054.4Z M1359.4,1055.7 L1366.5,1050.1 L1368.5,1056Z M1394.2,1050.7 L1386.1,1056.5 L1384.2,1050Z M1436.9,1049.2 L1425.2,1054.3 L1424.4,1046.5Z M1459.5,1047.8 L1450.2,1053.9 L1448.4,1047Z M1485.4,1054.1 L1473.3,1054.4 L1476,1046.4Z M1198.6,1071.9 L1211.8,1068.2 L1211.4,1076.7Z M1225.6,1074.8 L1234.5,1066 L1238.1,1073.8Z M1296.1,1078.2 L1304,1065.6 L1310,1073.3Z M1372.8,1077.9 L1372.5,1070.1 L1377.2,1071.5Z M1402.8,1076.4 L1392,1072.8 L1396.2,1067.1Z M1429.7,1072.2 L1418.4,1073.5 L1420.2,1066Z M1450.8,1066.7 L1441.5,1070.1 L1441.5,1063.4Z M1212.5,1088.2 L1226,1079.5 L1228.6,1089.3Z M1240,1094.8 L1251.6,1082.9 L1256.2,1091.3Z M1258.3,1088.4 L1268.8,1077.9 L1272.8,1085.7Z M1387.4,1096.2 L1378.4,1087.7 L1385.7,1083.9Z M1412.2,1096 L1402.4,1089.1 L1409.1,1084.4Z M1435.9,1093.5 L1423.8,1086.1 L1431.5,1080Z M1396.2,950 L1394.4,962.3 L1386.6,958Z M1407.3,944.8 L1402.7,959.6 L1396.6,955.9Z M1418.3,945.5 L1412,959.4 L1405.5,953.8Z M1429.5,946.2 L1421.6,960 L1415.1,952.8Z M1467.4,955.4 L1457.4,969.1 L1451.4,961.1Z M1486.9,963.2 L1472.9,978.6 L1467.4,970.4Z M1493,972 L1479.4,984.3 L1475.4,976.9Z M1512.1,989 L1490.5,999.4 L1488.1,989.2Z M1510.4,993.8 L1496.2,1006.3 L1491.9,997.8Z M1522.4,1005.6 L1498.6,1014.7 L1496.9,1005.5Z M1523.4,1011.1 L1501.7,1023.1 L1498.8,1013.7Z M1522.3,1024.8 L1501.9,1031.8 L1500.9,1022.5Z M1521.1,1035.1 L1501.5,1041.1 L1501.1,1031Z M1522.9,1048.1 L1499.3,1049.8 L1500.7,1039.7Z M1516,1051.9 L1497.9,1058.5 L1497.1,1047.8Z M1514.1,1065.2 L1492.8,1065.9 L1494.7,1056.5Z M1508.6,1069.8 L1488.6,1073.5 L1489,1064.5Z M1503.4,1081.5 L1481.7,1080.7 L1484.3,1071.2Z M1495.3,1085.4 L1475.9,1086.4 L1477.2,1078.2Z M1476.3,1100.1 L1459.3,1097.7 L1463.8,1088.3Z M1466.5,1102.8 L1451.4,1101 L1454.9,1093.1Z M1459.1,1107.1 L1442.3,1104.6 L1446.7,1095.5Z M1448.7,1111.8 L1432.5,1106.1 L1438.3,1098.2Z M1437.3,1109 L1424,1107.3 L1428.7,1098.7Z M1429.3,1110.1 L1414.8,1106.3 L1418.6,1099.6Z M1419.5,1109.5 L1405.3,1105.5 L1409.3,1098.8Z M1399.9,1106.5 L1386.2,1101.3 L1391.7,1094.4Z M1388.6,1101.7 L1377.7,1096.8 L1382.5,1091.3Z M1379.7,1097.3 L1368.6,1092.7 L1373.5,1086.9Z M1309.8,1112.7 L1313.7,1098.6 L1321.3,1103.6Z M1292.6,1123.1 L1297.4,1107.6 L1304.3,1111.9Z M1283.5,1123.2 L1288,1109.1 L1295.7,1114.8Z M1270.8,1124.7 L1279.7,1110.1 L1285.7,1116.2Z M1259.9,1122.1 L1270.6,1109.4 L1275.8,1117.2Z M1250.7,1122.6 L1260.8,1108.4 L1267,1116.6Z M1233.7,1121.6 L1253.2,1106.7 L1257.2,1114.6Z M1230.9,1119.7 L1242.9,1103.5 L1249.6,1112.2Z M1216.4,1114.9 L1235.4,1099.8 L1239.9,1108.9Z M1208.7,1109.8 L1227.4,1095.6 L1231.6,1104.4Z M1199.7,1108.5 L1218.9,1090.4 L1224.5,1099.4Z M1190,1100.2 L1212.8,1085.1 L1216.7,1093.9Z M1183.9,1091.5 L1206.3,1078 L1209.9,1088.3Z M1175,1083.2 L1200.9,1070.7 L1203.8,1082.5Z M1168.4,1079.7 L1195.5,1064.3 L1199,1074.1Z M1167.1,1071 L1191.7,1056.8 L1195.2,1066.8Z M1166,1056.5 L1190.2,1048.2 L1191.3,1060.1Z M1159.6,1043.5 L1189.6,1040.9 L1188.8,1050.9Z M1159.8,1037.3 L1188.7,1031.1 L1188.7,1043.5Z M1161.8,1029.5 L1189.2,1023.4 L1189.2,1035.4Z M1164.8,1018.7 L1192,1015 L1190.8,1027.4Z M1165.9,1008.4 L1195.6,1008.6 L1193.9,1018.5Z M1173,1000.8 L1200.1,1000 L1198,1011.3Z M1175.5,991.7 L1205.2,993.8 L1202.8,1003.6Z M1184.8,982.3 L1211.8,987.3 L1208.2,996.6Z M1192.4,978.2 L1218,981.4 L1214.8,990.9Z M1202.7,969 L1226.7,975.6 L1221.1,985.7Z M1209.3,964.5 L1234.2,970.8 L1229,981Z M1219.3,961.2 L1242,967.7 L1238,975.7Z M1227.4,954.1 L1251.1,964.1 L1245.6,972.3Z M1263.2,950.9 L1278.9,959.5 L1273,965.9Z M1270.4,951.1 L1288.4,958.6 L1282.1,966.7Z M1283,950.1 L1297.6,961 L1291.4,966.3Z M1295.6,955.3 L1307.3,962.9 L1300.4,968.4Z M1303.6,956.3 L1316.6,966.1 L1309.7,971.4Z" fill="#2b4193"/>
<path d="M1346.3,799 L1345.9,1260" stroke="#555" stroke-width="1.2" opacity="0.5599999999999999" fill="none"/>
<path d="M1148.9,1046.7 L1547.1,1021" stroke="#555" stroke-width="1" opacity="0.48" fill="none"/>
<path d="M1262.1,1005.2 L1450.9,1070.1" stroke="#555" stroke-width="1" opacity="0.52" fill="none"/>
<g clip-path="url(#c3)">
<path d="M1346.3,799 L1345.9,1260" stroke="#2a1408" stroke-width="1.2" opacity="0.7" fill="none"/>
<path d="M1148.9,1046.7 L1547.1,1021" stroke="#2a1408" stroke-width="1" opacity="0.7" fill="none" stroke-dasharray="5 2"/>
<path d="M1262.1,1005.2 L1450.9,1070.1" stroke="#2a1408" stroke-width="1" opacity="0.7" fill="none" stroke-dasharray="5 2"/>
</g>
<g font-family='"Liberation Serif", serif' fill="#000">
<text x="316.5" y="753.2" font-size="62">P<tspan font-size="38" dx="-1">x</tspan></text>
<text x="733" y="744.9" font-size="62">Qm<tspan font-size="38" dx="-1">yz</tspan></text>
<text x="1378" y="720.5" font-size="61.2" text-anchor="middle">Forward/backward</text>
<text x="1387" y="792.8" font-size="61.5" text-anchor="middle">scattering</text>
</g>
<g font-family='"Liberation Sans", sans-serif' fill="#000" stroke="#000">
<text x="569.4" y="1029.6" font-size="72" text-anchor="middle" stroke-width="1.3">+</text>
<text transform="translate(1064.5,1025.6) scale(1.07,1)" font-size="58" text-anchor="middle" stroke-width="1.8">=</text>
</g>
<path d="M1614.7,981.2 L1553.3,984.4" stroke="#fe0000" stroke-width="2.9" fill="none"/><path d="M1535.8,985.3 L1553.8,974.8 L1554.8,993.9Z" fill="#fe0000"/>
<path d="M1614.7,981.2 L1674.9,1011.6" stroke="#00a650" stroke-width="2.9" fill="none"/><path d="M1690.5,1019.5 L1669.7,1019.7 L1678.3,1002.6Z" fill="#00a650"/>
<path d="M1614.7,981.2 L1614.7,919.2" stroke="#3f7cc4" stroke-width="2.9" fill="none"/><path d="M1614.7,901.7 L1624.3,920.2 L1605.1,920.2Z" fill="#3f7cc4"/>
<g font-family='"Liberation Serif", serif' font-style="italic">
<text x="1622" y="876.1" font-size="46" fill="#3f7cc4">H<tspan font-size="35">y</tspan></text>
<text x="1711" y="1017.4" font-size="45" fill="#00a650">E<tspan font-size="35">x</tspan></text>
<text x="1528.5" y="1057.4" font-size="46" fill="#fe0000">k<tspan font-size="33">z</tspan></text>
</g>
</svg>
</body></html>
